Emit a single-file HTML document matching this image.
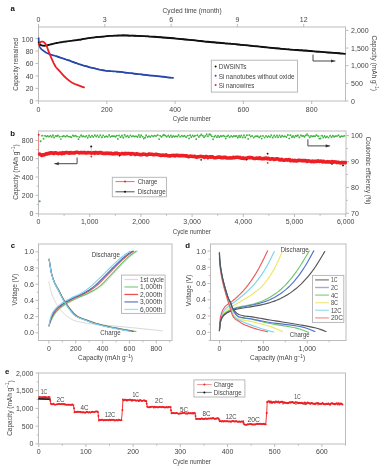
<!DOCTYPE html>
<html><head><meta charset="utf-8"><style>
html,body{margin:0;padding:0;background:#fff;width:385px;height:470px;overflow:hidden}
svg{display:block;font-family:"Liberation Sans",sans-serif;filter:blur(0.45px)}
</style></head><body>
<svg width="385" height="470" viewBox="0 0 385 470">
<rect width="385" height="470" fill="#fff"/>
<text x="10.5" y="11.3" font-size="7.8" font-weight="bold" fill="#111">a</text>
<text x="192.1" y="12.6" text-anchor="middle" font-size="7" fill="#444444"  textLength="59" lengthAdjust="spacingAndGlyphs">Cycled time (month)</text>
<rect x="38.5" y="27" width="307" height="74" fill="none" stroke="#bcbcbc" stroke-width="1"/>
<line x1="38.5" y1="27" x2="38.5" y2="24" stroke="#bcbcbc" stroke-width="1"/>
<text x="38.5" y="21.8" text-anchor="middle" font-size="7" fill="#444444" >0</text>
<line x1="104.8" y1="27" x2="104.8" y2="24" stroke="#bcbcbc" stroke-width="1"/>
<text x="104.8" y="21.8" text-anchor="middle" font-size="7" fill="#444444" >3</text>
<line x1="171.1" y1="27" x2="171.1" y2="24" stroke="#bcbcbc" stroke-width="1"/>
<text x="171.1" y="21.8" text-anchor="middle" font-size="7" fill="#444444" >6</text>
<line x1="237.4" y1="27" x2="237.4" y2="24" stroke="#bcbcbc" stroke-width="1"/>
<text x="237.4" y="21.8" text-anchor="middle" font-size="7" fill="#444444" >9</text>
<line x1="303.7" y1="27" x2="303.7" y2="24" stroke="#bcbcbc" stroke-width="1"/>
<text x="303.7" y="21.8" text-anchor="middle" font-size="7" fill="#444444" >12</text>
<line x1="35.5" y1="100.8" x2="38.5" y2="100.8" stroke="#bcbcbc" stroke-width="1"/>
<text x="33.5" y="103.7" text-anchor="end" font-size="7" fill="#444444" >0</text>
<line x1="35.5" y1="88.36" x2="38.5" y2="88.36" stroke="#bcbcbc" stroke-width="1"/>
<text x="33.5" y="91.26" text-anchor="end" font-size="7" fill="#444444" >20</text>
<line x1="35.5" y1="75.92" x2="38.5" y2="75.92" stroke="#bcbcbc" stroke-width="1"/>
<text x="33.5" y="78.82" text-anchor="end" font-size="7" fill="#444444" >40</text>
<line x1="35.5" y1="63.48" x2="38.5" y2="63.48" stroke="#bcbcbc" stroke-width="1"/>
<text x="33.5" y="66.38" text-anchor="end" font-size="7" fill="#444444" >60</text>
<line x1="35.5" y1="51.04" x2="38.5" y2="51.04" stroke="#bcbcbc" stroke-width="1"/>
<text x="33.5" y="53.94" text-anchor="end" font-size="7" fill="#444444" >80</text>
<line x1="35.5" y1="38.6" x2="38.5" y2="38.6" stroke="#bcbcbc" stroke-width="1"/>
<text x="33.5" y="41.5" text-anchor="end" font-size="7" fill="#444444" >100</text>
<line x1="345.5" y1="101" x2="348.5" y2="101" stroke="#bcbcbc" stroke-width="1"/>
<text x="351.1" y="103.5" text-anchor="start" font-size="7" fill="#444444" >0</text>
<line x1="345.5" y1="83.35" x2="348.5" y2="83.35" stroke="#bcbcbc" stroke-width="1"/>
<text x="351.1" y="85.85" text-anchor="start" font-size="7" fill="#444444" >500</text>
<line x1="345.5" y1="65.7" x2="348.5" y2="65.7" stroke="#bcbcbc" stroke-width="1"/>
<text x="351.1" y="68.2" text-anchor="start" font-size="7" fill="#444444" >1,000</text>
<line x1="345.5" y1="48.05" x2="348.5" y2="48.05" stroke="#bcbcbc" stroke-width="1"/>
<text x="351.1" y="50.55" text-anchor="start" font-size="7" fill="#444444" >1,500</text>
<line x1="345.5" y1="30.4" x2="348.5" y2="30.4" stroke="#bcbcbc" stroke-width="1"/>
<text x="351.1" y="32.9" text-anchor="start" font-size="7" fill="#444444" >2,000</text>
<line x1="38.5" y1="101" x2="38.5" y2="104" stroke="#bcbcbc" stroke-width="1"/>
<text x="38.5" y="111.8" text-anchor="middle" font-size="7" fill="#444444" >0</text>
<line x1="106.8" y1="101" x2="106.8" y2="104" stroke="#bcbcbc" stroke-width="1"/>
<text x="106.8" y="111.8" text-anchor="middle" font-size="7" fill="#444444" >200</text>
<line x1="175.1" y1="101" x2="175.1" y2="104" stroke="#bcbcbc" stroke-width="1"/>
<text x="175.1" y="111.8" text-anchor="middle" font-size="7" fill="#444444" >400</text>
<line x1="243.4" y1="101" x2="243.4" y2="104" stroke="#bcbcbc" stroke-width="1"/>
<text x="243.4" y="111.8" text-anchor="middle" font-size="7" fill="#444444" >600</text>
<line x1="311.7" y1="101" x2="311.7" y2="104" stroke="#bcbcbc" stroke-width="1"/>
<text x="311.7" y="111.8" text-anchor="middle" font-size="7" fill="#444444" >800</text>
<text x="191.8" y="121.4" text-anchor="middle" font-size="7" fill="#444444"  textLength="38.2" lengthAdjust="spacingAndGlyphs">Cycle number</text>
<text transform="translate(15.8,64.4) rotate(-90)" x="0" y="0" text-anchor="middle" dominant-baseline="central" font-size="7" fill="#444444" textLength="52.8" lengthAdjust="spacingAndGlyphs">Capacity remained</text>
<text transform="translate(374.9,63.3) rotate(90)" x="0" y="0" text-anchor="middle" dominant-baseline="central" font-size="7" fill="#444444" textLength="55.5" lengthAdjust="spacingAndGlyphs">Capacity (mAh g<tspan font-size="5" dy="-2.5">−1</tspan><tspan dy="2.5">)</tspan></text>
<path d="M38.7,38.2 L38.71,38.47 L38.71,38.82 L38.71,39.23 L38.72,39.69 L38.74,40.2 L38.77,40.75 L38.82,41.32 L38.9,41.9 L39,42.53 L39.1,43.25 L39.22,44.01 L39.36,44.79 L39.53,45.57 L39.72,46.31 L39.94,47 L40.2,47.6 L40.5,48.12 L40.85,48.57 L41.22,48.97 L41.62,49.34 L42.05,49.69 L42.49,50.02 L42.94,50.35 L43.4,50.7 L43.87,51.06 L44.36,51.41 L44.87,51.76 L45.39,52.09 L45.92,52.42 L46.45,52.73 L46.98,53.03 L47.5,53.3 L48.01,53.55 L48.52,53.77 L49.02,53.98 L49.53,54.17 L50.05,54.35 L50.58,54.53 L51.13,54.71 L51.7,54.9 L52.3,55.09 L52.91,55.27 L53.53,55.44 L54.18,55.62 L54.83,55.8 L55.51,55.99 L56.2,56.18 L56.9,56.4 L57.63,56.63 L58.38,56.88 L59.15,57.14 L59.94,57.41 L60.73,57.69 L61.53,57.96 L62.32,58.23 L63.1,58.5 L63.84,58.75 L64.55,58.99 L65.23,59.21 L65.93,59.44 L66.65,59.69 L67.44,59.96 L68.31,60.26 L69.3,60.6 L70.4,61 L71.6,61.44 L72.87,61.91 L74.21,62.41 L75.6,62.92 L77.02,63.43 L78.46,63.93 L79.9,64.4 L81.36,64.86 L82.87,65.31 L84.41,65.77 L85.98,66.22 L87.56,66.66 L89.15,67.09 L90.73,67.5 L92.3,67.9 L93.84,68.29 L95.35,68.66 L96.86,69.03 L98.37,69.39 L99.91,69.73 L101.48,70.04 L103.11,70.33 L104.8,70.6 L106.5,70.82 L108.18,70.98 L109.87,71.12 L111.62,71.23 L113.46,71.35 L115.45,71.49 L117.61,71.67 L120,71.9 L122.74,72.21 L125.86,72.57 L129.21,72.98 L132.68,73.41 L136.12,73.83 L139.41,74.24 L142.41,74.6 L145,74.9 L147.13,75.13 L148.91,75.31 L150.43,75.46 L151.78,75.58 L153.06,75.69 L154.36,75.8 L155.78,75.93 L157.4,76.1 L159.31,76.31 L161.46,76.55 L163.74,76.81 L166.03,77.07 L168.22,77.33 L170.2,77.56 L171.87,77.76 L173.1,77.9" fill="none" stroke="#2646aa" stroke-width="1.7" stroke-linejoin="round" stroke-linecap="round" />
<path d="M56.9,56.14 L58.4,57.15 L59.9,57.6 L61.4,57.75 L62.9,58.43 L64.4,58.9 L65.9,59.54 L67.4,60.14 L68.9,60.18 L70.4,60.67 L71.9,61.79 L73.4,62.06 L74.9,62.85 L76.4,62.86 L77.9,63.7 L79.4,64.39 L80.9,64.52 L82.4,65.48 L83.9,65.9 L85.4,65.72 L86.9,66.14 L88.4,66.92 L89.9,67.59 L91.4,67.59 L92.9,67.85 L94.4,68.37 L95.9,68.47 L97.4,68.97 L98.9,69.46 L100.4,69.82 L101.9,69.93 L103.4,70.19 L104.9,70.42 L106.4,70.78 L107.9,70.81 L109.4,70.74 L110.9,71.42 L112.4,71.32 L113.9,71.48 L115.4,71.27 L116.9,71.95 L118.4,71.99 L119.9,71.62 L121.4,71.94 L122.9,72.38 L124.4,72.55 L125.9,72.88 L127.4,72.7 L128.9,73.17 L130.4,73.24 L131.9,73.17 L133.4,73.56 L134.9,73.95 L136.4,74.11 L137.9,74.06 L139.4,74.3 L140.9,74.09 L142.4,74.42 L143.9,74.98 L145.4,74.88 L146.9,74.88 L148.4,75.3 L149.9,75.55 L151.4,75.66 L152.9,75.58 L154.4,75.76 L155.9,75.95 L157.4,76.29 L158.9,76.28 L160.4,76.36 L161.9,76.59 L163.4,76.44 L164.9,76.63 L166.4,77.26 L167.9,77.63 L169.4,77.53 L170.9,77.57 L172.4,77.59" fill="none" stroke="#2646aa" stroke-width="1.2" stroke-linejoin="round" stroke-linecap="round" />
<path d="M38.7,42.4 L38.81,42.57 L38.96,42.8 L39.13,43.08 L39.32,43.39 L39.53,43.7 L39.75,44 L39.97,44.28 L40.2,44.5 L40.43,44.68 L40.66,44.85 L40.9,44.99 L41.15,45.12 L41.41,45.23 L41.69,45.33 L41.99,45.42 L42.3,45.5 L42.64,45.57 L43,45.63 L43.39,45.67 L43.79,45.71 L44.19,45.73 L44.6,45.73 L45.01,45.72 L45.4,45.7 L45.77,45.66 L46.1,45.61 L46.42,45.54 L46.75,45.46 L47.1,45.37 L47.5,45.26 L47.96,45.14 L48.5,45 L49.12,44.84 L49.8,44.66 L50.54,44.46 L51.33,44.25 L52.15,44.03 L53.01,43.81 L53.89,43.6 L54.8,43.4 L55.74,43.2 L56.73,43.01 L57.77,42.81 L58.82,42.62 L59.9,42.43 L60.98,42.24 L62.05,42.07 L63.1,41.9 L64.14,41.74 L65.17,41.6 L66.2,41.46 L67.23,41.33 L68.27,41.2 L69.3,41.07 L70.35,40.94 L71.4,40.8 L72.44,40.66 L73.44,40.53 L74.44,40.39 L75.45,40.26 L76.49,40.11 L77.58,39.96 L78.75,39.79 L80,39.6 L81.31,39.39 L82.63,39.15 L84,38.9 L85.44,38.64 L86.96,38.37 L88.6,38.1 L90.37,37.85 L92.3,37.6 L94.47,37.36 L96.91,37.1 L99.51,36.84 L102.21,36.59 L104.92,36.36 L107.56,36.14 L110.05,35.95 L112.3,35.8 L114.28,35.68 L116.04,35.6 L117.67,35.53 L119.21,35.49 L120.75,35.47 L122.35,35.47 L124.08,35.48 L126,35.5 L128.08,35.53 L130.24,35.58 L132.47,35.64 L134.79,35.72 L137.2,35.81 L139.7,35.92 L142.3,36.05 L145,36.2 L147.84,36.37 L150.83,36.56 L153.94,36.77 L157.14,36.99 L160.38,37.23 L163.62,37.48 L166.84,37.74 L170,38 L173.18,38.28 L176.44,38.58 L179.74,38.89 L183.01,39.21 L186.21,39.53 L189.28,39.84 L192.16,40.13 L194.8,40.4 L197.09,40.63 L199.05,40.84 L200.77,41.03 L202.39,41.21 L204,41.39 L205.74,41.58 L207.7,41.78 L210,42 L212.66,42.24 L215.56,42.5 L218.66,42.77 L221.89,43.04 L225.19,43.33 L228.52,43.61 L231.81,43.91 L235,44.2 L238.13,44.5 L241.25,44.81 L244.38,45.12 L247.51,45.44 L250.64,45.76 L253.76,46.08 L256.88,46.39 L260,46.7 L263.11,47.01 L266.2,47.32 L269.3,47.63 L272.39,47.94 L275.48,48.24 L278.58,48.54 L281.68,48.82 L284.8,49.1 L287.86,49.36 L290.84,49.59 L293.79,49.81 L296.76,50.02 L299.81,50.24 L303,50.47 L306.38,50.72 L310,51 L314.15,51.33 L318.88,51.7 L323.95,52.11 L329.07,52.52 L334.01,52.92 L338.48,53.28 L342.23,53.58 L345,53.8" fill="none" stroke="#111" stroke-width="1.85" stroke-linejoin="round" stroke-linecap="round" />
<path d="M80,39.87 L81.5,39.6 L83,38.79 L84.5,38.54 L86,38.72 L87.5,38.42 L89,38.14 L90.5,37.71 L92,37.7 L93.5,37.53 L95,37.35 L96.5,36.94 L98,36.95 L99.5,36.78 L101,36.84 L102.5,36.87 L104,36.71 L105.5,36.34 L107,36.15 L108.5,35.93 L110,35.68 L111.5,35.57 L113,35.74 L114.5,35.56 L116,35.53 L117.5,35.78 L119,35.51 L120.5,35.51 L122,35.31 L123.5,35.19 L125,35.38 L126.5,35.29 L128,35.54 L129.5,35.86 L131,35.7 L132.5,35.45 L134,35.93 L135.5,35.92 L137,35.95 L138.5,36.11 L140,36.1 L141.5,36.19 L143,36 L144.5,36.46 L146,36.54 L147.5,36.14 L149,36.59 L150.5,36.67 L152,36.61 L153.5,36.76 L155,36.84 L156.5,37.2 L158,37.06 L159.5,37.37 L161,37.19 L162.5,37.62 L164,37.75 L165.5,37.61 L167,37.79 L168.5,38.13 L170,38.13 L171.5,38.12 L173,38.09 L174.5,38.29 L176,38.66 L177.5,38.48 L179,39.07 L180.5,38.83 L182,39.36 L183.5,39.15 L185,39.69 L186.5,39.69 L188,39.72 L189.5,39.88 L191,40.11 L192.5,40.22 L194,40.21 L195.5,40.3 L197,40.63 L198.5,41.04 L200,41.02 L201.5,40.86 L203,41.47 L204.5,41.58 L206,41.85 L207.5,41.57 L209,42.05 L210.5,41.78 L212,42.28 L213.5,42.18 L215,42.29 L216.5,42.81 L218,42.48 L219.5,42.85 L221,43.18 L222.5,42.94 L224,43.05 L225.5,43.58 L227,43.44 L228.5,43.74 L230,43.46 L231.5,43.8 L233,43.82 L234.5,44.26 L236,44.05 L237.5,44.71 L239,44.3 L240.5,44.87 L242,44.59 L243.5,44.88 L245,45.37 L246.5,45.13 L248,45.3 L249.5,45.76 L251,45.72 L252.5,45.67 L254,46.39 L255.5,46.04 L257,46.12 L258.5,46.46 L260,46.77 L261.5,46.99 L263,46.77 L264.5,47.05 L266,47.02 L267.5,47.42 L269,47.76 L270.5,47.89 L272,48.14 L273.5,48.2 L275,48.41 L276.5,48.46 L278,48.47 L279.5,48.46 L281,48.86 L282.5,48.79 L284,48.79 L285.5,49.13 L287,49.51 L288.5,49.18 L290,49.57 L291.5,49.57 L293,49.76 L294.5,49.65 L296,50.25 L297.5,49.93 L299,50.25 L300.5,50.24 L302,50.11 L303.5,50.54 L305,50.4 L306.5,50.47 L308,50.57 L309.5,50.76 L311,50.84 L312.5,51.28 L314,51.32 L315.5,51.72 L317,51.81 L318.5,51.97 L320,51.63 L321.5,51.88 L323,51.88 L324.5,52.21 L326,52.35 L327.5,52.57 L329,52.64 L330.5,52.49 L332,52.71 L333.5,52.89 L335,52.7 L336.5,52.84 L338,53.18 L339.5,53.12 L341,53.61 L342.5,53.44 L344,53.48" fill="none" stroke="#111" stroke-width="1.2" stroke-linejoin="round" stroke-linecap="round" />
<path d="M38.7,44.5 L38.82,44.33 L38.97,44.09 L39.15,43.81 L39.35,43.5 L39.56,43.18 L39.78,42.88 L40,42.61 L40.2,42.4 L40.39,42.23 L40.58,42.07 L40.77,41.94 L40.96,41.82 L41.15,41.73 L41.36,41.66 L41.57,41.62 L41.8,41.6 L42.04,41.6 L42.3,41.61 L42.57,41.64 L42.84,41.7 L43.13,41.79 L43.41,41.91 L43.71,42.08 L44,42.3 L44.3,42.56 L44.61,42.86 L44.93,43.2 L45.26,43.57 L45.58,43.99 L45.9,44.45 L46.2,44.95 L46.5,45.5 L46.77,46.09 L47.02,46.74 L47.26,47.42 L47.49,48.15 L47.73,48.92 L47.99,49.71 L48.28,50.54 L48.6,51.4 L48.96,52.31 L49.36,53.28 L49.78,54.29 L50.22,55.34 L50.67,56.39 L51.12,57.43 L51.57,58.44 L52,59.4 L52.42,60.33 L52.85,61.27 L53.27,62.2 L53.69,63.1 L54.12,63.97 L54.54,64.8 L54.97,65.58 L55.4,66.3 L55.83,66.93 L56.24,67.48 L56.66,67.96 L57.08,68.41 L57.51,68.85 L57.95,69.29 L58.41,69.77 L58.9,70.3 L59.41,70.88 L59.93,71.5 L60.46,72.13 L61.01,72.78 L61.58,73.43 L62.17,74.09 L62.77,74.75 L63.4,75.4 L64.05,76.06 L64.74,76.74 L65.45,77.42 L66.17,78.11 L66.9,78.78 L67.64,79.42 L68.37,80.04 L69.1,80.6 L69.8,81.11 L70.47,81.58 L71.12,82.01 L71.79,82.41 L72.48,82.8 L73.22,83.19 L74.02,83.59 L74.9,84 L75.94,84.45 L77.16,84.93 L78.47,85.42 L79.81,85.91 L81.11,86.37 L82.29,86.79 L83.28,87.14 L84,87.4" fill="none" stroke="#ee1f24" stroke-width="1.8" stroke-linejoin="round" stroke-linecap="round" />
<path d="M313,55 L313,61 L335,61" fill="none" stroke="#333" stroke-width="0.9" stroke-linejoin="round" stroke-linecap="round" />
<path d="M335,61 L331,59.4 L331,62.6 Z" fill="#333"/>
<rect x="211.3" y="60.2" width="86.2" height="31.9" fill="#fff" stroke="#b2b2b2" stroke-width="0.9"/>
<circle cx="215.6" cy="66.4" r="1.0" fill="#111"/>
<text x="218.7" y="69.3" text-anchor="start" font-size="7" fill="#444444"  textLength="27.8" lengthAdjust="spacingAndGlyphs">DWSiNTs</text>
<circle cx="215.6" cy="75.65" r="1.0" fill="#2b4fb5"/>
<text x="218.7" y="78.55" text-anchor="start" font-size="7" fill="#444444"  textLength="75.8" lengthAdjust="spacingAndGlyphs">Si nanotubes without oxide</text>
<circle cx="215.6" cy="84.9" r="1.0" fill="#e8262a"/>
<text x="218.7" y="87.8" text-anchor="start" font-size="7" fill="#444444"  textLength="35.6" lengthAdjust="spacingAndGlyphs">Si nanowires</text>
<text x="10.3" y="135.9" font-size="7.8" font-weight="bold" fill="#111">b</text>
<rect x="38.5" y="131" width="307.5" height="83" fill="none" stroke="#bcbcbc" stroke-width="1"/>
<line x1="35.5" y1="213.6" x2="38.5" y2="213.6" stroke="#bcbcbc" stroke-width="1"/>
<text x="33.5" y="216.1" text-anchor="end" font-size="7" fill="#444444" >0</text>
<line x1="36.7" y1="204.45" x2="38.5" y2="204.45" stroke="#bcbcbc" stroke-width="1"/>
<line x1="35.5" y1="195.3" x2="38.5" y2="195.3" stroke="#bcbcbc" stroke-width="1"/>
<text x="33.5" y="197.8" text-anchor="end" font-size="7" fill="#444444" >200</text>
<line x1="36.7" y1="186.15" x2="38.5" y2="186.15" stroke="#bcbcbc" stroke-width="1"/>
<line x1="35.5" y1="177" x2="38.5" y2="177" stroke="#bcbcbc" stroke-width="1"/>
<text x="33.5" y="179.5" text-anchor="end" font-size="7" fill="#444444" >400</text>
<line x1="36.7" y1="167.85" x2="38.5" y2="167.85" stroke="#bcbcbc" stroke-width="1"/>
<line x1="35.5" y1="158.7" x2="38.5" y2="158.7" stroke="#bcbcbc" stroke-width="1"/>
<text x="33.5" y="161.2" text-anchor="end" font-size="7" fill="#444444" >600</text>
<line x1="36.7" y1="149.55" x2="38.5" y2="149.55" stroke="#bcbcbc" stroke-width="1"/>
<line x1="35.5" y1="140.4" x2="38.5" y2="140.4" stroke="#bcbcbc" stroke-width="1"/>
<text x="33.5" y="142.9" text-anchor="end" font-size="7" fill="#444444" >800</text>
<line x1="346" y1="213.3" x2="349" y2="213.3" stroke="#bcbcbc" stroke-width="1"/>
<text x="351" y="215.8" text-anchor="start" font-size="7" fill="#444444" >70</text>
<line x1="346" y1="200.35" x2="347.8" y2="200.35" stroke="#bcbcbc" stroke-width="1"/>
<line x1="346" y1="187.4" x2="349" y2="187.4" stroke="#bcbcbc" stroke-width="1"/>
<text x="351" y="189.9" text-anchor="start" font-size="7" fill="#444444" >80</text>
<line x1="346" y1="174.45" x2="347.8" y2="174.45" stroke="#bcbcbc" stroke-width="1"/>
<line x1="346" y1="161.5" x2="349" y2="161.5" stroke="#bcbcbc" stroke-width="1"/>
<text x="351" y="164" text-anchor="start" font-size="7" fill="#444444" >90</text>
<line x1="346" y1="148.55" x2="347.8" y2="148.55" stroke="#bcbcbc" stroke-width="1"/>
<line x1="346" y1="135.6" x2="349" y2="135.6" stroke="#bcbcbc" stroke-width="1"/>
<text x="351" y="138.1" text-anchor="start" font-size="7" fill="#444444" >100</text>
<line x1="38.5" y1="214" x2="38.5" y2="217" stroke="#bcbcbc" stroke-width="1"/>
<text x="38.5" y="223.5" text-anchor="middle" font-size="7" fill="#444444" >0</text>
<line x1="64.1" y1="214" x2="64.1" y2="215.8" stroke="#bcbcbc" stroke-width="1"/>
<line x1="89.7" y1="214" x2="89.7" y2="217" stroke="#bcbcbc" stroke-width="1"/>
<text x="89.7" y="223.5" text-anchor="middle" font-size="7" fill="#444444" >1,000</text>
<line x1="115.3" y1="214" x2="115.3" y2="215.8" stroke="#bcbcbc" stroke-width="1"/>
<line x1="140.9" y1="214" x2="140.9" y2="217" stroke="#bcbcbc" stroke-width="1"/>
<text x="140.9" y="223.5" text-anchor="middle" font-size="7" fill="#444444" >2,000</text>
<line x1="166.5" y1="214" x2="166.5" y2="215.8" stroke="#bcbcbc" stroke-width="1"/>
<line x1="192.1" y1="214" x2="192.1" y2="217" stroke="#bcbcbc" stroke-width="1"/>
<text x="192.1" y="223.5" text-anchor="middle" font-size="7" fill="#444444" >3,000</text>
<line x1="217.7" y1="214" x2="217.7" y2="215.8" stroke="#bcbcbc" stroke-width="1"/>
<line x1="243.3" y1="214" x2="243.3" y2="217" stroke="#bcbcbc" stroke-width="1"/>
<text x="243.3" y="223.5" text-anchor="middle" font-size="7" fill="#444444" >4,000</text>
<line x1="268.9" y1="214" x2="268.9" y2="215.8" stroke="#bcbcbc" stroke-width="1"/>
<line x1="294.5" y1="214" x2="294.5" y2="217" stroke="#bcbcbc" stroke-width="1"/>
<text x="294.5" y="223.5" text-anchor="middle" font-size="7" fill="#444444" >5,000</text>
<line x1="320.1" y1="214" x2="320.1" y2="215.8" stroke="#bcbcbc" stroke-width="1"/>
<line x1="345.7" y1="214" x2="345.7" y2="217" stroke="#bcbcbc" stroke-width="1"/>
<text x="345.7" y="223.5" text-anchor="middle" font-size="7" fill="#444444" >6,000</text>
<text x="191.8" y="233.5" text-anchor="middle" font-size="7" fill="#444444"  textLength="38.2" lengthAdjust="spacingAndGlyphs">Cycle number</text>
<text transform="translate(15,172) rotate(-90)" x="0" y="0" text-anchor="middle" dominant-baseline="central" font-size="7" fill="#444444" textLength="55.5" lengthAdjust="spacingAndGlyphs">Capacity (mAh g<tspan font-size="5" dy="-2.5">−1</tspan><tspan dy="2.5">)</tspan></text>
<text transform="translate(368.8,170.5) rotate(90)" x="0" y="0" text-anchor="middle" dominant-baseline="central" font-size="7" fill="#444444" textLength="67.6" lengthAdjust="spacingAndGlyphs">Coulombic efficiency (%)</text>
<path d="M42,135.7 L45.14,135.79 L46.48,136.58 L47.58,135.81 L49.07,136.68 L50.48,135.7 L51.68,136.89 L52.92,135.13 L54.13,137.53 L55.67,135.78 L56.85,136.17 L57.95,135.31 L59.46,136.68 L62.43,136.5 L63.82,135.88 L65.4,136.69 L66.97,135.72 L68.46,136.58 L69.99,136.56 L71.26,137.32 L72.82,135.45 L74.01,136.06 L75.61,135.7 L76.97,136.53 L79.6,137.11 L81.07,135.21 L82.22,136.49 L83.47,136.11 L85.06,136.78 L86.4,135.82 L87.69,137.8 L89.04,135.52 L90.53,137.18 L92.01,135.55 L93.3,136.92 L94.78,135.26 L96.21,136.56 L97.43,135.41 L98.86,137.09 L100.32,135.14 L101.86,137.46 L103.22,135.35 L104.79,136.98 L106.25,136.27 L107.68,136.85 L109.1,135.01 L110.42,136.81 L111.84,136.18 L112.97,136.26 L114.16,136.18 L115.57,136.75 L116.67,135.59 L118.97,135.47 L120.55,137.17 L121.97,135.52 L123.36,137.77 L124.63,134.78 L126.01,136.7 L127.56,135.74 L128.81,137.32 L130.36,135.34 L131.71,136.6 L133.06,135.89 L134.47,136.62 L135.98,136.26 L137.55,136.98 L138.73,134.9 L140.06,137.11 L141.22,135.18 L142.49,136.63 L145.1,137.66 L146.21,135.26 L147.66,136.99 L148.95,136.06 L150.2,136.9 L151.65,135.56 L153.2,136.4 L154.55,135.58 L156.06,136.12 L157.55,135.07 L160.35,135.84 L161.52,136.94 L162.93,135.48 L165.44,135.66 L166.75,136.71 L168.32,135.45 L169.5,137.01 L170.87,135.32 L172.1,137.16 L173.32,135.99 L174.77,136.7 L175.92,136.18 L177.46,136.69 L178.57,135.02 L180.15,136.85 L181.74,135.71 L183.15,136.46 L184.56,135.74 L186.07,137.27 L187.6,135.7 L190.19,135.17 L191.29,137.13 L192.6,135.37 L193.78,136.61 L194.96,135.77 L197.48,135.27 L198.82,137.08 L200.07,135.62 L202.85,135.66 L204.09,137.3 L205.32,135.8 L207.94,136.23 L210.64,134.77 L211.77,136.37 L214.26,136.78 L215.4,135.56 L216.96,137.25 L218.07,135.59 L219.36,137.18 L220.61,135.97 L221.77,136.29 L223.28,135.58 L224.5,136.29 L226.97,136.38 L228.23,135.39 L229.65,137.22 L231.16,135.83 L232.61,136.82 L233.78,135.91 L235.21,136.24 L236.59,135.86 L237.87,137.64 L239.09,135.63 L240.19,137.21 L241.34,135.35 L242.66,137.61 L243.92,135.12 L245.24,137.52 L246.83,135.22 L249.48,135.11 L250.72,136.54 L252.19,135.84 L253.78,137.54 L255.08,136.34 L256.2,136.13 L257.75,136.25 L259.2,137.38 L260.48,136.25 L262.97,135.84 L264.56,137.57 L265.99,135.84 L267.39,137.08 L268.53,136.03 L270.01,136.95 L271.25,135.05 L272.68,137.72 L274.2,135.45 L275.56,137.12 L276.93,135.38 L278.12,137.35 L279.53,135.47 L280.9,137.01 L282.11,135.7 L283.66,136.56 L284.87,136.23 L286.41,137.06 L287.77,135.01 L290.56,135.27 L291.96,137.18 L293.09,135.94 L294.35,137.39 L295.56,135.69 L296.71,136.21 L297.89,135.2 L299.35,137.47 L300.92,135.2 L302.07,136.03 L303.36,135.84 L304.5,136.77 L305.66,135.43 L308.46,135.59 L309.74,137.47 L310.99,135.81 L312.37,136.47 L313.73,136.13 L315.17,136.15 L316.51,135.1 L318.07,136.24 L322.09,135.7 L323.33,137.55 L324.46,136 L325.85,137.45 L326.97,136.44 L328.51,137.57 L330.11,135.66 L331.6,137.13 L332.81,135.56 L334.05,136.75 L335.38,136.07 L336.92,136.1 L338.5,135.24 L340.06,137 L341.38,136.13 L342.87,136.45 L344.32,135.83" fill="none" stroke="#5cc25c" stroke-width="0.7" stroke-linejoin="round" stroke-linecap="round" />
<g fill="#3db53d">
<circle cx="39.7" cy="201.3" r="1"/>
<circle cx="40.6" cy="141.2" r="1"/>
<circle cx="42" cy="135.7" r="0.9"/>
<circle cx="45.14" cy="135.79" r="0.9"/>
<circle cx="46.48" cy="136.58" r="0.9"/>
<circle cx="47.58" cy="135.81" r="0.9"/>
<circle cx="49.07" cy="136.68" r="0.9"/>
<circle cx="50.48" cy="135.7" r="0.9"/>
<circle cx="51.68" cy="136.89" r="0.9"/>
<circle cx="52.92" cy="135.13" r="0.9"/>
<circle cx="54.13" cy="137.53" r="0.9"/>
<circle cx="55.67" cy="135.78" r="0.9"/>
<circle cx="56.85" cy="136.17" r="0.9"/>
<circle cx="57.95" cy="135.31" r="0.9"/>
<circle cx="59.46" cy="136.68" r="0.9"/>
<circle cx="62.43" cy="136.5" r="0.9"/>
<circle cx="63.82" cy="135.88" r="0.9"/>
<circle cx="65.4" cy="136.69" r="0.9"/>
<circle cx="66.97" cy="135.72" r="0.9"/>
<circle cx="68.46" cy="136.58" r="0.9"/>
<circle cx="69.99" cy="136.56" r="0.9"/>
<circle cx="71.26" cy="137.32" r="0.9"/>
<circle cx="72.82" cy="135.45" r="0.9"/>
<circle cx="74.01" cy="136.06" r="0.9"/>
<circle cx="75.61" cy="135.7" r="0.9"/>
<circle cx="76.97" cy="136.53" r="0.9"/>
<circle cx="79.6" cy="137.11" r="0.9"/>
<circle cx="81.07" cy="135.21" r="0.9"/>
<circle cx="82.22" cy="136.49" r="0.9"/>
<circle cx="83.47" cy="136.11" r="0.9"/>
<circle cx="85.06" cy="136.78" r="0.9"/>
<circle cx="86.4" cy="135.82" r="0.9"/>
<circle cx="87.69" cy="137.8" r="0.9"/>
<circle cx="89.04" cy="135.52" r="0.9"/>
<circle cx="90.53" cy="137.18" r="0.9"/>
<circle cx="92.01" cy="135.55" r="0.9"/>
<circle cx="93.3" cy="136.92" r="0.9"/>
<circle cx="94.78" cy="135.26" r="0.9"/>
<circle cx="96.21" cy="136.56" r="0.9"/>
<circle cx="97.43" cy="135.41" r="0.9"/>
<circle cx="98.86" cy="137.09" r="0.9"/>
<circle cx="100.32" cy="135.14" r="0.9"/>
<circle cx="101.86" cy="137.46" r="0.9"/>
<circle cx="103.22" cy="135.35" r="0.9"/>
<circle cx="104.79" cy="136.98" r="0.9"/>
<circle cx="106.25" cy="136.27" r="0.9"/>
<circle cx="107.68" cy="136.85" r="0.9"/>
<circle cx="109.1" cy="135.01" r="0.9"/>
<circle cx="110.42" cy="136.81" r="0.9"/>
<circle cx="111.84" cy="136.18" r="0.9"/>
<circle cx="112.97" cy="136.26" r="0.9"/>
<circle cx="114.16" cy="136.18" r="0.9"/>
<circle cx="115.57" cy="136.75" r="0.9"/>
<circle cx="116.67" cy="135.59" r="0.9"/>
<circle cx="118.97" cy="135.47" r="0.9"/>
<circle cx="120.55" cy="137.17" r="0.9"/>
<circle cx="121.97" cy="135.52" r="0.9"/>
<circle cx="123.36" cy="137.77" r="0.9"/>
<circle cx="124.63" cy="134.78" r="0.9"/>
<circle cx="126.01" cy="136.7" r="0.9"/>
<circle cx="127.56" cy="135.74" r="0.9"/>
<circle cx="128.81" cy="137.32" r="0.9"/>
<circle cx="130.36" cy="135.34" r="0.9"/>
<circle cx="131.71" cy="136.6" r="0.9"/>
<circle cx="133.06" cy="135.89" r="0.9"/>
<circle cx="134.47" cy="136.62" r="0.9"/>
<circle cx="135.98" cy="136.26" r="0.9"/>
<circle cx="137.55" cy="136.98" r="0.9"/>
<circle cx="138.73" cy="134.9" r="0.9"/>
<circle cx="140.06" cy="137.11" r="0.9"/>
<circle cx="141.22" cy="135.18" r="0.9"/>
<circle cx="142.49" cy="136.63" r="0.9"/>
<circle cx="145.1" cy="137.66" r="0.9"/>
<circle cx="146.21" cy="135.26" r="0.9"/>
<circle cx="147.66" cy="136.99" r="0.9"/>
<circle cx="148.95" cy="136.06" r="0.9"/>
<circle cx="150.2" cy="136.9" r="0.9"/>
<circle cx="151.65" cy="135.56" r="0.9"/>
<circle cx="153.2" cy="136.4" r="0.9"/>
<circle cx="154.55" cy="135.58" r="0.9"/>
<circle cx="156.06" cy="136.12" r="0.9"/>
<circle cx="157.55" cy="135.07" r="0.9"/>
<circle cx="160.35" cy="135.84" r="0.9"/>
<circle cx="161.52" cy="136.94" r="0.9"/>
<circle cx="162.93" cy="135.48" r="0.9"/>
<circle cx="165.44" cy="135.66" r="0.9"/>
<circle cx="166.75" cy="136.71" r="0.9"/>
<circle cx="168.32" cy="135.45" r="0.9"/>
<circle cx="169.5" cy="137.01" r="0.9"/>
<circle cx="170.87" cy="135.32" r="0.9"/>
<circle cx="172.1" cy="137.16" r="0.9"/>
<circle cx="173.32" cy="135.99" r="0.9"/>
<circle cx="174.77" cy="136.7" r="0.9"/>
<circle cx="175.92" cy="136.18" r="0.9"/>
<circle cx="177.46" cy="136.69" r="0.9"/>
<circle cx="178.57" cy="135.02" r="0.9"/>
<circle cx="180.15" cy="136.85" r="0.9"/>
<circle cx="181.74" cy="135.71" r="0.9"/>
<circle cx="183.15" cy="136.46" r="0.9"/>
<circle cx="184.56" cy="135.74" r="0.9"/>
<circle cx="186.07" cy="137.27" r="0.9"/>
<circle cx="187.6" cy="135.7" r="0.9"/>
<circle cx="190.19" cy="135.17" r="0.9"/>
<circle cx="191.29" cy="137.13" r="0.9"/>
<circle cx="192.6" cy="135.37" r="0.9"/>
<circle cx="193.78" cy="136.61" r="0.9"/>
<circle cx="194.96" cy="135.77" r="0.9"/>
<circle cx="197.48" cy="135.27" r="0.9"/>
<circle cx="198.82" cy="137.08" r="0.9"/>
<circle cx="200.07" cy="135.62" r="0.9"/>
<circle cx="202.85" cy="135.66" r="0.9"/>
<circle cx="204.09" cy="137.3" r="0.9"/>
<circle cx="205.32" cy="135.8" r="0.9"/>
<circle cx="207.94" cy="136.23" r="0.9"/>
<circle cx="210.64" cy="134.77" r="0.9"/>
<circle cx="211.77" cy="136.37" r="0.9"/>
<circle cx="214.26" cy="136.78" r="0.9"/>
<circle cx="215.4" cy="135.56" r="0.9"/>
<circle cx="216.96" cy="137.25" r="0.9"/>
<circle cx="218.07" cy="135.59" r="0.9"/>
<circle cx="219.36" cy="137.18" r="0.9"/>
<circle cx="220.61" cy="135.97" r="0.9"/>
<circle cx="221.77" cy="136.29" r="0.9"/>
<circle cx="223.28" cy="135.58" r="0.9"/>
<circle cx="224.5" cy="136.29" r="0.9"/>
<circle cx="226.97" cy="136.38" r="0.9"/>
<circle cx="228.23" cy="135.39" r="0.9"/>
<circle cx="229.65" cy="137.22" r="0.9"/>
<circle cx="231.16" cy="135.83" r="0.9"/>
<circle cx="232.61" cy="136.82" r="0.9"/>
<circle cx="233.78" cy="135.91" r="0.9"/>
<circle cx="235.21" cy="136.24" r="0.9"/>
<circle cx="236.59" cy="135.86" r="0.9"/>
<circle cx="237.87" cy="137.64" r="0.9"/>
<circle cx="239.09" cy="135.63" r="0.9"/>
<circle cx="240.19" cy="137.21" r="0.9"/>
<circle cx="241.34" cy="135.35" r="0.9"/>
<circle cx="242.66" cy="137.61" r="0.9"/>
<circle cx="243.92" cy="135.12" r="0.9"/>
<circle cx="245.24" cy="137.52" r="0.9"/>
<circle cx="246.83" cy="135.22" r="0.9"/>
<circle cx="249.48" cy="135.11" r="0.9"/>
<circle cx="250.72" cy="136.54" r="0.9"/>
<circle cx="252.19" cy="135.84" r="0.9"/>
<circle cx="253.78" cy="137.54" r="0.9"/>
<circle cx="255.08" cy="136.34" r="0.9"/>
<circle cx="256.2" cy="136.13" r="0.9"/>
<circle cx="257.75" cy="136.25" r="0.9"/>
<circle cx="259.2" cy="137.38" r="0.9"/>
<circle cx="260.48" cy="136.25" r="0.9"/>
<circle cx="262.97" cy="135.84" r="0.9"/>
<circle cx="264.56" cy="137.57" r="0.9"/>
<circle cx="265.99" cy="135.84" r="0.9"/>
<circle cx="267.39" cy="137.08" r="0.9"/>
<circle cx="268.53" cy="136.03" r="0.9"/>
<circle cx="270.01" cy="136.95" r="0.9"/>
<circle cx="271.25" cy="135.05" r="0.9"/>
<circle cx="272.68" cy="137.72" r="0.9"/>
<circle cx="274.2" cy="135.45" r="0.9"/>
<circle cx="275.56" cy="137.12" r="0.9"/>
<circle cx="276.93" cy="135.38" r="0.9"/>
<circle cx="278.12" cy="137.35" r="0.9"/>
<circle cx="279.53" cy="135.47" r="0.9"/>
<circle cx="280.9" cy="137.01" r="0.9"/>
<circle cx="282.11" cy="135.7" r="0.9"/>
<circle cx="283.66" cy="136.56" r="0.9"/>
<circle cx="284.87" cy="136.23" r="0.9"/>
<circle cx="286.41" cy="137.06" r="0.9"/>
<circle cx="287.77" cy="135.01" r="0.9"/>
<circle cx="290.56" cy="135.27" r="0.9"/>
<circle cx="291.96" cy="137.18" r="0.9"/>
<circle cx="293.09" cy="135.94" r="0.9"/>
<circle cx="294.35" cy="137.39" r="0.9"/>
<circle cx="295.56" cy="135.69" r="0.9"/>
<circle cx="296.71" cy="136.21" r="0.9"/>
<circle cx="297.89" cy="135.2" r="0.9"/>
<circle cx="299.35" cy="137.47" r="0.9"/>
<circle cx="300.92" cy="135.2" r="0.9"/>
<circle cx="302.07" cy="136.03" r="0.9"/>
<circle cx="303.36" cy="135.84" r="0.9"/>
<circle cx="304.5" cy="136.77" r="0.9"/>
<circle cx="305.66" cy="135.43" r="0.9"/>
<circle cx="308.46" cy="135.59" r="0.9"/>
<circle cx="309.74" cy="137.47" r="0.9"/>
<circle cx="310.99" cy="135.81" r="0.9"/>
<circle cx="312.37" cy="136.47" r="0.9"/>
<circle cx="313.73" cy="136.13" r="0.9"/>
<circle cx="315.17" cy="136.15" r="0.9"/>
<circle cx="316.51" cy="135.1" r="0.9"/>
<circle cx="318.07" cy="136.24" r="0.9"/>
<circle cx="322.09" cy="135.7" r="0.9"/>
<circle cx="323.33" cy="137.55" r="0.9"/>
<circle cx="324.46" cy="136" r="0.9"/>
<circle cx="325.85" cy="137.45" r="0.9"/>
<circle cx="326.97" cy="136.44" r="0.9"/>
<circle cx="328.51" cy="137.57" r="0.9"/>
<circle cx="330.11" cy="135.66" r="0.9"/>
<circle cx="331.6" cy="137.13" r="0.9"/>
<circle cx="332.81" cy="135.56" r="0.9"/>
<circle cx="334.05" cy="136.75" r="0.9"/>
<circle cx="335.38" cy="136.07" r="0.9"/>
<circle cx="336.92" cy="136.1" r="0.9"/>
<circle cx="338.5" cy="135.24" r="0.9"/>
<circle cx="340.06" cy="137" r="0.9"/>
<circle cx="341.38" cy="136.13" r="0.9"/>
<circle cx="342.87" cy="136.45" r="0.9"/>
<circle cx="344.32" cy="135.83" r="0.9"/>
<circle cx="43.57" cy="138.77" r="0.9"/>
<circle cx="60.91" cy="139.05" r="0.9"/>
<circle cx="78.49" cy="139.22" r="0.9"/>
<circle cx="117.83" cy="138.91" r="0.9"/>
<circle cx="143.77" cy="138.55" r="0.9"/>
<circle cx="159.14" cy="139.14" r="0.9"/>
<circle cx="164.05" cy="134.76" r="0.9"/>
<circle cx="189.07" cy="138.5" r="0.9"/>
<circle cx="196.2" cy="139.22" r="0.9"/>
<circle cx="201.27" cy="134.52" r="0.9"/>
<circle cx="206.63" cy="134.25" r="0.9"/>
<circle cx="209.3" cy="134.17" r="0.9"/>
<circle cx="213.07" cy="139.27" r="0.9"/>
<circle cx="225.73" cy="138.5" r="0.9"/>
<circle cx="248.14" cy="138.88" r="0.9"/>
<circle cx="261.68" cy="138.61" r="0.9"/>
<circle cx="289.18" cy="138.42" r="0.9"/>
<circle cx="307" cy="134.27" r="0.9"/>
<circle cx="319.18" cy="138.55" r="0.9"/>
<circle cx="320.5" cy="138.52" r="0.9"/>
</g>
<line x1="38.6" y1="134.7" x2="38.6" y2="154" stroke="#f07070" stroke-width="0.7"/>
<circle cx="38.7" cy="134.7" r="1" fill="#e8262a"/>
<path d="M39.6,154.11 L40.7,154.82 L41.8,155.49 L42.9,154.69 L44,154.97 L45.1,154.43 L46.2,153.72 L47.3,153.94 L48.4,153.18 L49.5,153.43 L50.6,152.9 L51.7,152.84 L52.8,153.15 L53.9,153.56 L55,152.77 L56.1,152.86 L57.2,153.3 L58.3,153.63 L59.4,153.21 L60.5,152.99 L61.6,153.61 L62.7,152.57 L63.8,153.44 L64.9,152.79 L66,152.6 L67.1,152.55 L68.2,152.73 L69.3,153.27 L70.4,152.54 L71.5,152.96 L72.6,153 L73.7,152.69 L74.8,152.86 L75.9,152.31 L77,152.28 L78.1,152.43 L79.2,152.94 L80.3,152.64 L81.4,152.51 L82.5,152.8 L83.6,152.65 L84.7,152.48 L85.8,153.02 L86.9,152.93 L88,152.43 L89.1,152.81 L90.2,152.77 L91.3,153.17 L92.4,153.03 L93.5,152.57 L94.6,153.36 L95.7,152.43 L96.8,152.79 L97.9,153.19 L99,152.56 L100.1,152.96 L101.2,152.5 L102.3,153.22 L103.4,153.36 L104.5,153.19 L105.6,153.55 L106.7,152.97 L107.8,153.42 L108.9,153.35 L110,153.36 L111.1,153.26 L112.2,153.72 L113.3,153.87 L114.4,153.38 L115.5,153.63 L116.6,153 L117.7,153.75 L118.8,153.73 L119.9,154.15 L121,154 L122.1,153.45 L123.2,153.61 L124.3,153.96 L125.4,153.29 L126.5,153.81 L127.6,153.53 L128.7,153.51 L129.8,153.48 L130.9,154.3 L132,153.63 L133.1,153.79 L134.2,153.98 L135.3,154.54 L136.4,153.7 L137.5,154.13 L138.6,154.27 L139.7,154.66 L140.8,154.62 L141.9,154.7 L143,154.08 L144.1,154.26 L145.2,154.23 L146.3,154.83 L147.4,154.95 L148.5,154.09 L149.6,154.15 L150.7,154.25 L151.8,154.29 L152.9,154.6 L154,154.76 L155.1,154.44 L156.2,154.21 L157.3,154.71 L158.4,154.71 L159.5,154.98 L160.6,155.46 L161.7,155.23 L162.8,155.09 L163.9,155.26 L165,155.39 L166.1,154.77 L167.2,155.76 L168.3,155.69 L169.4,155.85 L170.5,155.83 L171.6,155.45 L172.7,155.51 L173.8,155.25 L174.9,155.89 L176,155.32 L177.1,155.38 L178.2,155.59 L179.3,155.59 L180.4,155.84 L181.5,155.58 L182.6,155.57 L183.7,155.78 L184.8,155.78 L185.9,156.11 L187,155.79 L188.1,156.77 L189.2,156.53 L190.3,156.06 L191.4,156.22 L192.5,156.37 L193.6,156.43 L194.7,156.21 L195.8,157.05 L196.9,157.25 L198,156.72 L199.1,156.78 L200.2,156.38 L201.3,156.44 L202.4,156.74 L203.5,156.69 L204.6,157.35 L205.7,156.65 L206.8,156.53 L207.9,157.59 L209,157.15 L210.1,156.76 L211.2,157.23 L212.3,156.69 L213.4,157.26 L214.5,157.79 L215.6,157.68 L216.7,157.52 L217.8,157.07 L218.9,157.21 L220,157.01 L221.1,157.7 L222.2,157.46 L223.3,157.75 L224.4,157.28 L225.5,157.18 L226.6,157.86 L227.7,158.07 L228.8,157.95 L229.9,157.92 L231,157.95 L232.1,157.89 L233.2,157.34 L234.3,157.68 L235.4,157.53 L236.5,157.19 L237.6,157.21 L238.7,157.51 L239.8,157.5 L240.9,158 L242,158.31 L243.1,157.77 L244.2,158.33 L245.3,158.41 L246.4,158.4 L247.5,157.77 L248.6,157.64 L249.7,157.67 L250.8,157.66 L251.9,157.7 L253,158.18 L254.1,158.51 L255.2,158.47 L256.3,158.09 L257.4,158.3 L258.5,158.49 L259.6,157.73 L260.7,158.4 L261.8,158.71 L262.9,158.61 L264,158.62 L265.1,158.37 L266.2,158.1 L267.3,158.84 L268.4,158.4 L269.5,158.99 L270.6,159.26 L271.7,158.71 L272.8,158.8 L273.9,159.49 L275,159.33 L276.1,158.81 L277.2,158.86 L278.3,158.98 L279.4,159.9 L280.5,159.88 L281.6,159.24 L282.7,160.07 L283.8,160.32 L284.9,160.05 L286,159.78 L287.1,160.08 L288.2,159.69 L289.3,159.62 L290.4,160.74 L291.5,160.44 L292.6,160.37 L293.7,160.87 L294.8,160.38 L295.9,160.91 L297,160.91 L298.1,160.29 L299.2,160.38 L300.3,160.47 L301.4,160.46 L302.5,160.89 L303.6,160.58 L304.7,160.8 L305.8,160.53 L306.9,161.43 L308,160.87 L309.1,161.03 L310.2,161.21 L311.3,161.61 L312.4,161.12 L313.5,161.71 L314.6,161.3 L315.7,161.37 L316.8,161.41 L317.9,160.9 L319,161.41 L320.1,161.17 L321.2,161.02 L322.3,161.94 L323.4,161.3 L324.5,161.68 L325.6,162 L326.7,161.86 L327.8,161.66 L328.9,161.92 L330,162 L331.1,162.3 L332.2,161.6 L333.3,162.15 L334.4,161.85 L335.5,161.93 L336.6,162.52 L337.7,162.28 L338.8,162.38 L339.9,162.65 L341,162.86 L342.1,162.39 L343.2,162.63 L344.3,162.56 L345.4,162.61" fill="none" stroke="#ee1f24" stroke-width="3.6" stroke-linejoin="round" stroke-linecap="round" />
<circle cx="91.2" cy="146.6" r="1" fill="#111"/>
<line x1="91.2" y1="147.5" x2="91.2" y2="151" stroke="#9ab" stroke-width="0.6"/>
<circle cx="91.3" cy="156.5" r="0.9" fill="#ee1f24"/>
<circle cx="119.5" cy="155.9" r="0.7" fill="#111"/>
<circle cx="201.1" cy="159.9" r="0.8" fill="#111"/>
<circle cx="246.7" cy="159.7" r="0.7" fill="#111"/>
<circle cx="267.6" cy="153.7" r="0.9" fill="#111"/>
<circle cx="267.6" cy="162.9" r="0.9" fill="#ee1f24"/>
<circle cx="332" cy="164.2" r="0.7" fill="#111"/>
<circle cx="343" cy="165.4" r="0.9" fill="#111"/>
<path d="M77.1,157.9 L77.1,163.7 L54.7,163.7" fill="none" stroke="#333" stroke-width="0.9" stroke-linejoin="round" stroke-linecap="round" />
<path d="M54.7,163.7 L58.7,162.1 L58.7,165.3 Z" fill="#333"/>
<path d="M307.9,139.7 L307.9,145.9 L329.7,145.9" fill="none" stroke="#333" stroke-width="0.9" stroke-linejoin="round" stroke-linecap="round" />
<path d="M329.7,145.9 L325.7,144.3 L325.7,147.5 Z" fill="#333"/>
<rect x="112.3" y="177.3" width="54.1" height="19.5" fill="#fff" stroke="#b2b2b2" stroke-width="0.9"/>
<line x1="115.5" y1="181.6" x2="134.6" y2="181.6" stroke="#f04040" stroke-width="0.8"/>
<circle cx="125" cy="181.6" r="1" fill="#e8262a"/>
<text x="137.7" y="184.1" text-anchor="start" font-size="7" fill="#444444"  textLength="19.8" lengthAdjust="spacingAndGlyphs">Charge</text>
<line x1="115.5" y1="191.8" x2="134.6" y2="191.8" stroke="#222" stroke-width="0.8"/>
<circle cx="125" cy="191.8" r="1" fill="#111"/>
<text x="137.7" y="194.3" text-anchor="start" font-size="7" fill="#444444"  textLength="28" lengthAdjust="spacingAndGlyphs">Discharge</text>
<text x="10.7" y="247.9" font-size="7.8" font-weight="bold" fill="#111">c</text>
<rect x="38.5" y="244" width="133.5" height="96.5" fill="none" stroke="#bcbcbc" stroke-width="1"/>
<line x1="35.5" y1="332.8" x2="38.5" y2="332.8" stroke="#bcbcbc" stroke-width="1"/>
<text x="34" y="335.3" text-anchor="end" font-size="7" fill="#444444" >0.0</text>
<line x1="36.7" y1="324.7" x2="38.5" y2="324.7" stroke="#bcbcbc" stroke-width="1"/>
<line x1="35.5" y1="316.6" x2="38.5" y2="316.6" stroke="#bcbcbc" stroke-width="1"/>
<text x="34" y="319.1" text-anchor="end" font-size="7" fill="#444444" >0.2</text>
<line x1="36.7" y1="308.5" x2="38.5" y2="308.5" stroke="#bcbcbc" stroke-width="1"/>
<line x1="35.5" y1="300.4" x2="38.5" y2="300.4" stroke="#bcbcbc" stroke-width="1"/>
<text x="34" y="302.9" text-anchor="end" font-size="7" fill="#444444" >0.4</text>
<line x1="36.7" y1="292.3" x2="38.5" y2="292.3" stroke="#bcbcbc" stroke-width="1"/>
<line x1="35.5" y1="284.2" x2="38.5" y2="284.2" stroke="#bcbcbc" stroke-width="1"/>
<text x="34" y="286.7" text-anchor="end" font-size="7" fill="#444444" >0.6</text>
<line x1="36.7" y1="276.1" x2="38.5" y2="276.1" stroke="#bcbcbc" stroke-width="1"/>
<line x1="35.5" y1="268" x2="38.5" y2="268" stroke="#bcbcbc" stroke-width="1"/>
<text x="34" y="270.5" text-anchor="end" font-size="7" fill="#444444" >0.8</text>
<line x1="36.7" y1="259.9" x2="38.5" y2="259.9" stroke="#bcbcbc" stroke-width="1"/>
<line x1="35.5" y1="251.8" x2="38.5" y2="251.8" stroke="#bcbcbc" stroke-width="1"/>
<text x="34" y="254.3" text-anchor="end" font-size="7" fill="#444444" >1.0</text>
<line x1="48.9" y1="340.5" x2="48.9" y2="343.5" stroke="#bcbcbc" stroke-width="1"/>
<text x="48.9" y="351.3" text-anchor="middle" font-size="7" fill="#444444" >0</text>
<line x1="62.33" y1="340.5" x2="62.33" y2="342.3" stroke="#bcbcbc" stroke-width="1"/>
<line x1="75.75" y1="340.5" x2="75.75" y2="343.5" stroke="#bcbcbc" stroke-width="1"/>
<text x="75.75" y="351.3" text-anchor="middle" font-size="7" fill="#444444" >200</text>
<line x1="89.18" y1="340.5" x2="89.18" y2="342.3" stroke="#bcbcbc" stroke-width="1"/>
<line x1="102.6" y1="340.5" x2="102.6" y2="343.5" stroke="#bcbcbc" stroke-width="1"/>
<text x="102.6" y="351.3" text-anchor="middle" font-size="7" fill="#444444" >400</text>
<line x1="116.03" y1="340.5" x2="116.03" y2="342.3" stroke="#bcbcbc" stroke-width="1"/>
<line x1="129.45" y1="340.5" x2="129.45" y2="343.5" stroke="#bcbcbc" stroke-width="1"/>
<text x="129.45" y="351.3" text-anchor="middle" font-size="7" fill="#444444" >600</text>
<line x1="142.88" y1="340.5" x2="142.88" y2="342.3" stroke="#bcbcbc" stroke-width="1"/>
<line x1="156.3" y1="340.5" x2="156.3" y2="343.5" stroke="#bcbcbc" stroke-width="1"/>
<text x="156.3" y="351.3" text-anchor="middle" font-size="7" fill="#444444" >800</text>
<line x1="169.72" y1="340.5" x2="169.72" y2="342.3" stroke="#bcbcbc" stroke-width="1"/>
<text x="105.5" y="360.4" text-anchor="middle" font-size="7" fill="#444444"  textLength="55" lengthAdjust="spacingAndGlyphs">Capacity (mAh g<tspan font-size="5" dy="-2.5">−1</tspan><tspan dy="2.5">)</tspan></text>
<text transform="translate(14.4,289.7) rotate(-90)" x="0" y="0" text-anchor="middle" dominant-baseline="central" font-size="7" fill="#444444" textLength="31.6" lengthAdjust="spacingAndGlyphs">Voltage (V)</text>
<text x="105.8" y="256.6" text-anchor="middle" font-size="7" fill="#444444"  textLength="28.2" lengthAdjust="spacingAndGlyphs">Discharge</text>
<text x="110.5" y="334.8" text-anchor="middle" font-size="7" fill="#444444"  textLength="20.3" lengthAdjust="spacingAndGlyphs">Charge</text>
<path d="M48.9,281.7 L49,282.22 L49.13,282.91 L49.29,283.72 L49.46,284.63 L49.65,285.6 L49.86,286.59 L50.08,287.57 L50.3,288.5 L50.52,289.4 L50.74,290.3 L50.97,291.22 L51.22,292.14 L51.49,293.08 L51.78,294.04 L52.12,295.01 L52.5,296 L52.94,297.03 L53.43,298.11 L53.96,299.22 L54.52,300.34 L55.1,301.45 L55.68,302.53 L56.25,303.55 L56.8,304.5 L57.32,305.38 L57.83,306.2 L58.34,306.97 L58.84,307.71 L59.36,308.43 L59.88,309.12 L60.43,309.81 L61,310.5 L61.59,311.18 L62.17,311.85 L62.77,312.5 L63.39,313.13 L64.03,313.76 L64.71,314.37 L65.43,314.99 L66.2,315.6 L67.02,316.22 L67.87,316.85 L68.76,317.49 L69.69,318.11 L70.65,318.72 L71.66,319.29 L72.71,319.82 L73.8,320.3 L74.95,320.72 L76.15,321.1 L77.4,321.44 L78.69,321.75 L80.01,322.03 L81.34,322.3 L82.67,322.55 L84,322.8 L85.23,323.03 L86.35,323.23 L87.42,323.4 L88.53,323.57 L89.76,323.73 L91.17,323.9 L92.86,324.09 L94.9,324.3 L97.37,324.54 L100.23,324.8 L103.37,325.08 L106.71,325.36 L110.12,325.65 L113.51,325.94 L116.77,326.23 L119.8,326.5 L122.63,326.77 L125.36,327.03 L128.02,327.29 L130.62,327.55 L133.21,327.81 L135.78,328.07 L138.37,328.33 L141,328.6 L143.8,328.89 L146.82,329.19 L149.92,329.51 L152.97,329.83 L155.87,330.13 L158.47,330.4 L160.66,330.63 L162.3,330.8" fill="none" stroke="#d8d8d8" stroke-width="1.0" stroke-linejoin="round" stroke-linecap="round" />
<path d="M49.1,325.8 L49.22,325.48 L49.36,325.07 L49.53,324.57 L49.73,324.02 L49.95,323.43 L50.18,322.81 L50.43,322.2 L50.69,321.6 L50.97,321 L51.27,320.38 L51.58,319.74 L51.91,319.08 L52.25,318.42 L52.61,317.77 L52.98,317.12 L53.35,316.5 L53.73,315.89 L54.13,315.28 L54.53,314.67 L54.95,314.07 L55.38,313.49 L55.82,312.91 L56.27,312.35 L56.73,311.8 L57.21,311.27 L57.69,310.76 L58.19,310.26 L58.7,309.77 L59.22,309.29 L59.76,308.82 L60.3,308.36 L60.86,307.9 L61.45,307.44 L62.06,306.99 L62.68,306.55 L63.32,306.11 L63.96,305.69 L64.59,305.27 L65.21,304.88 L65.8,304.5 L66.33,304.16 L66.81,303.85 L67.25,303.58 L67.69,303.31 L68.16,303.03 L68.69,302.73 L69.32,302.39 L70.07,302 L70.94,301.55 L71.9,301.07 L72.93,300.55 L74.04,300.01 L75.2,299.45 L76.42,298.87 L77.68,298.29 L78.97,297.7 L80.34,297.11 L81.79,296.53 L83.3,295.93 L84.85,295.32 L86.43,294.69 L88,294.03 L89.54,293.33 L91.03,292.6 L92.49,291.84 L93.96,291.05 L95.41,290.24 L96.85,289.39 L98.27,288.51 L99.66,287.59 L101.02,286.62 L102.34,285.6 L103.62,284.51 L104.84,283.35 L106.03,282.14 L107.2,280.89 L108.35,279.61 L109.49,278.33 L110.63,277.05 L111.79,275.8 L112.95,274.55 L114.11,273.3 L115.26,272.03 L116.41,270.77 L117.56,269.51 L118.71,268.26 L119.87,267.02 L121.03,265.8 L122.21,264.58 L123.42,263.33 L124.64,262.09 L125.85,260.86 L127.05,259.66 L128.22,258.53 L129.35,257.47 L130.41,256.5 L131.46,255.61 L132.53,254.77 L133.57,253.99 L134.58,253.27 L135.5,252.62 L136.33,252.06 L137.03,251.58 L137.56,251.2" fill="none" stroke="#d8d8d8" stroke-width="1.0" stroke-linejoin="round" stroke-linecap="round" />
<path d="M49.1,325.8 L49.2,325.48 L49.33,325.07 L49.48,324.57 L49.66,324.02 L49.85,323.43 L50.06,322.81 L50.28,322.2 L50.52,321.6 L50.77,321 L51.03,320.38 L51.32,319.74 L51.62,319.08 L51.93,318.42 L52.25,317.77 L52.59,317.12 L52.93,316.5 L53.29,315.89 L53.65,315.28 L54.03,314.67 L54.42,314.07 L54.82,313.49 L55.23,312.91 L55.65,312.35 L56.09,311.8 L56.54,311.27 L57,310.76 L57.48,310.26 L57.96,309.77 L58.46,309.29 L58.97,308.82 L59.5,308.36 L60.04,307.9 L60.6,307.44 L61.19,306.99 L61.79,306.55 L62.41,306.11 L63.03,305.69 L63.64,305.27 L64.24,304.88 L64.81,304.5 L65.33,304.16 L65.79,303.85 L66.21,303.58 L66.64,303.31 L67.1,303.03 L67.62,302.73 L68.23,302.39 L68.96,302 L69.81,301.55 L70.74,301.07 L71.76,300.55 L72.83,300.01 L73.97,299.45 L75.16,298.87 L76.4,298.29 L77.66,297.7 L79,297.11 L80.42,296.53 L81.9,295.93 L83.43,295.32 L84.97,294.69 L86.51,294.03 L88.02,293.33 L89.48,292.6 L90.9,291.84 L92.31,291.05 L93.72,290.24 L95.11,289.39 L96.48,288.51 L97.83,287.59 L99.16,286.62 L100.46,285.6 L101.72,284.51 L102.96,283.35 L104.16,282.14 L105.35,280.89 L106.52,279.61 L107.69,278.33 L108.87,277.05 L110.05,275.8 L111.23,274.55 L112.41,273.3 L113.58,272.03 L114.75,270.77 L115.92,269.51 L117.09,268.26 L118.27,267.02 L119.45,265.8 L120.65,264.58 L121.88,263.33 L123.12,262.09 L124.36,260.86 L125.58,259.66 L126.77,258.53 L127.91,257.47 L128.99,256.5 L130.06,255.61 L131.13,254.77 L132.19,253.99 L133.21,253.27 L134.15,252.62 L134.98,252.06 L135.69,251.58 L136.23,251.2" fill="none" stroke="#5cc05c" stroke-width="1.1" stroke-linejoin="round" stroke-linecap="round" />
<path d="M49.1,325.8 L49.18,325.48 L49.27,325.07 L49.38,324.57 L49.51,324.02 L49.66,323.43 L49.81,322.81 L49.98,322.2 L50.17,321.6 L50.36,321 L50.57,320.38 L50.79,319.74 L51.03,319.08 L51.28,318.42 L51.54,317.77 L51.81,317.12 L52.1,316.5 L52.39,315.89 L52.7,315.28 L53.02,314.67 L53.35,314.07 L53.69,313.49 L54.05,312.91 L54.42,312.35 L54.81,311.8 L55.21,311.27 L55.62,310.76 L56.05,310.26 L56.49,309.77 L56.94,309.29 L57.41,308.82 L57.89,308.36 L58.38,307.9 L58.9,307.44 L59.45,306.99 L60.01,306.55 L60.59,306.11 L61.17,305.69 L61.74,305.27 L62.3,304.88 L62.84,304.5 L63.32,304.16 L63.75,303.85 L64.15,303.58 L64.55,303.31 L64.98,303.03 L65.48,302.73 L66.05,302.39 L66.75,302 L67.55,301.55 L68.44,301.07 L69.4,300.55 L70.43,300.01 L71.52,299.45 L72.65,298.87 L73.83,298.29 L75.04,297.7 L76.32,297.11 L77.68,296.53 L79.11,295.93 L80.58,295.32 L82.06,294.69 L83.54,294.03 L84.98,293.33 L86.37,292.6 L87.71,291.84 L89.03,291.05 L90.33,290.24 L91.62,289.39 L92.9,288.51 L94.16,287.59 L95.43,286.62 L96.69,285.6 L97.94,284.51 L99.19,283.35 L100.43,282.14 L101.66,280.89 L102.88,279.61 L104.11,278.33 L105.33,277.05 L106.55,275.8 L107.78,274.55 L109,273.3 L110.21,272.03 L111.43,270.77 L112.64,269.51 L113.85,268.26 L115.07,267.02 L116.3,265.8 L117.54,264.58 L118.81,263.33 L120.09,262.09 L121.37,260.86 L122.63,259.66 L123.85,258.53 L125.03,257.47 L126.15,256.5 L127.24,255.61 L128.35,254.77 L129.43,253.99 L130.47,253.27 L131.43,252.62 L132.29,252.06 L133.01,251.58 L133.56,251.2" fill="none" stroke="#e84a4a" stroke-width="1.1" stroke-linejoin="round" stroke-linecap="round" />
<path d="M49.1,325.8 L49.16,325.48 L49.24,325.07 L49.34,324.57 L49.44,324.02 L49.56,323.43 L49.7,322.81 L49.84,322.2 L50,321.6 L50.17,321 L50.35,320.38 L50.54,319.74 L50.75,319.08 L50.97,318.42 L51.2,317.77 L51.44,317.12 L51.7,316.5 L51.97,315.89 L52.25,315.28 L52.54,314.67 L52.84,314.07 L53.16,313.49 L53.49,312.91 L53.84,312.35 L54.2,311.8 L54.58,311.27 L54.97,310.76 L55.37,310.26 L55.79,309.77 L56.22,309.29 L56.67,308.82 L57.13,308.36 L57.6,307.9 L58.1,307.44 L58.62,306.99 L59.17,306.55 L59.73,306.11 L60.28,305.69 L60.84,305.27 L61.38,304.88 L61.9,304.5 L62.37,304.16 L62.78,303.85 L63.17,303.58 L63.56,303.31 L63.98,303.03 L64.46,302.73 L65.02,302.39 L65.7,302 L66.49,301.55 L67.35,301.07 L68.29,300.55 L69.29,300.01 L70.35,299.45 L71.46,298.87 L72.61,298.29 L73.8,297.7 L75.05,297.11 L76.39,296.53 L77.79,295.93 L79.23,295.32 L80.69,294.69 L82.13,294.03 L83.54,293.33 L84.9,292.6 L86.2,291.84 L87.48,291.05 L88.73,290.24 L89.97,289.39 L91.2,288.51 L92.43,287.59 L93.66,286.62 L94.9,285.6 L96.15,284.51 L97.4,283.35 L98.65,282.14 L99.91,280.89 L101.16,279.61 L102.41,278.33 L103.65,277.05 L104.9,275.8 L106.14,274.55 L107.38,273.3 L108.62,272.03 L109.85,270.77 L111.08,269.51 L112.32,268.26 L113.56,267.02 L114.8,265.8 L116.06,264.58 L117.35,263.33 L118.65,262.09 L119.95,260.86 L121.23,259.66 L122.47,258.53 L123.67,257.47 L124.8,256.5 L125.91,255.61 L127.03,254.77 L128.13,253.99 L129.18,253.27 L130.15,252.62 L131.01,252.06 L131.74,251.58 L132.3,251.2" fill="none" stroke="#5064b8" stroke-width="1.1" stroke-linejoin="round" stroke-linecap="round" />
<path d="M49.1,325.8 L49.14,325.48 L49.19,325.07 L49.25,324.57 L49.32,324.02 L49.4,323.43 L49.49,322.81 L49.59,322.2 L49.7,321.6 L49.83,321 L49.96,320.38 L50.1,319.74 L50.25,319.08 L50.42,318.42 L50.6,317.77 L50.79,317.12 L51,316.5 L51.22,315.89 L51.45,315.28 L51.69,314.67 L51.95,314.07 L52.22,313.49 L52.5,312.91 L52.8,312.35 L53.12,311.8 L53.45,311.27 L53.8,310.76 L54.17,310.26 L54.55,309.77 L54.94,309.29 L55.35,308.82 L55.77,308.36 L56.21,307.9 L56.67,307.44 L57.16,306.99 L57.67,306.55 L58.19,306.11 L58.72,305.69 L59.24,305.27 L59.75,304.88 L60.24,304.5 L60.68,304.16 L61.07,303.85 L61.43,303.58 L61.8,303.31 L62.2,303.03 L62.65,302.73 L63.19,302.39 L63.84,302 L64.59,301.55 L65.41,301.07 L66.31,300.55 L67.27,300.01 L68.29,299.45 L69.35,298.87 L70.45,298.29 L71.59,297.7 L72.8,297.11 L74.09,296.53 L75.44,295.93 L76.83,295.32 L78.24,294.69 L79.63,294.03 L80.99,293.33 L82.28,292.6 L83.52,291.84 L84.71,291.05 L85.88,290.24 L87.03,289.39 L88.18,288.51 L89.34,287.59 L90.51,286.62 L91.72,285.6 L92.97,284.51 L94.23,283.35 L95.51,282.14 L96.8,280.89 L98.09,279.61 L99.39,278.33 L100.68,277.05 L101.96,275.8 L103.23,274.55 L104.51,273.3 L105.78,272.03 L107.05,270.77 L108.32,269.51 L109.59,268.26 L110.87,267.02 L112.14,265.8 L113.44,264.58 L114.76,263.33 L116.1,262.09 L117.43,260.86 L118.74,259.66 L120.02,258.53 L121.25,257.47 L122.4,256.5 L123.54,255.61 L124.68,254.77 L125.8,253.99 L126.87,253.27 L127.86,252.62 L128.74,252.06 L129.48,251.58 L130.05,251.2" fill="none" stroke="#7fd4ee" stroke-width="1.1" stroke-linejoin="round" stroke-linecap="round" />
<path d="M49.1,259.2 L49.2,259.83 L49.34,260.68 L49.5,261.7 L49.69,262.82 L49.88,263.99 L50.07,265.17 L50.26,266.29 L50.44,267.3 L50.6,268.22 L50.74,269.09 L50.89,269.94 L51.03,270.78 L51.19,271.61 L51.36,272.45 L51.55,273.31 L51.78,274.2 L52.04,275.13 L52.33,276.1 L52.64,277.08 L52.97,278.07 L53.31,279.06 L53.66,280.02 L54.01,280.94 L54.35,281.8 L54.7,282.61 L55.06,283.4 L55.43,284.15 L55.81,284.87 L56.18,285.56 L56.54,286.23 L56.9,286.88 L57.24,287.5 L57.56,288.09 L57.87,288.63 L58.16,289.13 L58.45,289.62 L58.74,290.1 L59.03,290.58 L59.31,291.07 L59.61,291.6 L59.89,292.14 L60.17,292.67 L60.44,293.21 L60.71,293.76 L60.99,294.33 L61.29,294.92 L61.61,295.54 L61.98,296.2 L62.37,296.9 L62.78,297.65 L63.22,298.42 L63.67,299.22 L64.15,300.03 L64.64,300.86 L65.16,301.68 L65.68,302.5 L66.23,303.32 L66.8,304.17 L67.39,305.02 L68,305.88 L68.62,306.74 L69.25,307.58 L69.89,308.4 L70.52,309.2 L71.17,309.99 L71.83,310.78 L72.49,311.56 L73.17,312.33 L73.85,313.07 L74.53,313.77 L75.21,314.42 L75.88,315 L76.55,315.52 L77.21,315.97 L77.87,316.37 L78.53,316.73 L79.19,317.06 L79.86,317.38 L80.54,317.69 L81.24,318 L81.92,318.3 L82.59,318.56 L83.26,318.81 L83.93,319.04 L84.64,319.27 L85.4,319.52 L86.21,319.79 L87.11,320.1 L88.07,320.45 L89.08,320.82 L90.14,321.22 L91.26,321.63 L92.43,322.05 L93.65,322.47 L94.93,322.89 L96.27,323.3 L97.7,323.7 L99.21,324.12 L100.79,324.53 L102.43,324.94 L104.09,325.35 L105.76,325.75 L107.42,326.13 L109.05,326.5 L110.64,326.85 L112.23,327.17 L113.81,327.49 L115.4,327.79 L117,328.09 L118.61,328.39 L120.25,328.69 L121.92,329 L123.72,329.33 L125.69,329.68 L127.74,330.05 L129.78,330.41 L131.72,330.75 L133.47,331.05 L134.93,331.31 L136.03,331.5" fill="none" stroke="#5cc05c" stroke-width="1.1" stroke-linejoin="round" stroke-linecap="round" />
<path d="M49.1,259.2 L49.2,259.83 L49.33,260.68 L49.49,261.7 L49.67,262.82 L49.86,263.99 L50.04,265.17 L50.23,266.29 L50.4,267.3 L50.55,268.22 L50.7,269.09 L50.83,269.94 L50.97,270.78 L51.12,271.61 L51.29,272.45 L51.48,273.31 L51.7,274.2 L51.95,275.13 L52.23,276.1 L52.54,277.08 L52.86,278.07 L53.19,279.06 L53.53,280.02 L53.86,280.94 L54.2,281.8 L54.54,282.61 L54.89,283.4 L55.25,284.15 L55.61,284.87 L55.97,285.56 L56.33,286.23 L56.67,286.88 L57,287.5 L57.31,288.09 L57.61,288.63 L57.9,289.13 L58.18,289.62 L58.46,290.1 L58.74,290.58 L59.02,291.07 L59.3,291.6 L59.58,292.14 L59.84,292.67 L60.11,293.21 L60.37,293.76 L60.64,294.33 L60.93,294.92 L61.25,295.54 L61.6,296.2 L61.98,296.9 L62.38,297.65 L62.81,298.42 L63.25,299.22 L63.71,300.03 L64.19,300.86 L64.69,301.68 L65.2,302.5 L65.73,303.32 L66.29,304.17 L66.86,305.02 L67.45,305.88 L68.05,306.74 L68.66,307.58 L69.28,308.4 L69.9,309.2 L70.53,309.99 L71.16,310.78 L71.81,311.56 L72.47,312.33 L73.13,313.07 L73.79,313.77 L74.45,314.42 L75.1,315 L75.75,315.52 L76.39,315.97 L77.03,316.37 L77.67,316.73 L78.31,317.06 L78.96,317.38 L79.63,317.69 L80.3,318 L80.97,318.3 L81.61,318.56 L82.26,318.81 L82.92,319.04 L83.61,319.27 L84.34,319.52 L85.13,319.79 L86,320.1 L86.94,320.45 L87.92,320.82 L88.95,321.22 L90.03,321.63 L91.17,322.05 L92.35,322.47 L93.6,322.89 L94.9,323.3 L96.28,323.7 L97.75,324.12 L99.29,324.53 L100.88,324.94 L102.49,325.35 L104.11,325.75 L105.72,326.13 L107.3,326.5 L108.85,326.85 L110.39,327.17 L111.93,327.49 L113.47,327.79 L115.02,328.09 L116.59,328.39 L118.18,328.69 L119.8,329 L121.55,329.33 L123.46,329.68 L125.45,330.05 L127.43,330.41 L129.31,330.75 L131.01,331.05 L132.43,331.31 L133.5,331.5" fill="none" stroke="#e84a4a" stroke-width="1.1" stroke-linejoin="round" stroke-linecap="round" />
<path d="M49.1,259.2 L49.2,259.83 L49.33,260.68 L49.49,261.7 L49.66,262.82 L49.85,263.99 L50.04,265.17 L50.22,266.29 L50.39,267.3 L50.54,268.22 L50.68,269.09 L50.82,269.94 L50.96,270.78 L51.1,271.61 L51.27,272.45 L51.46,273.31 L51.67,274.2 L51.92,275.13 L52.2,276.1 L52.5,277.08 L52.82,278.07 L53.15,279.06 L53.48,280.02 L53.82,280.94 L54.15,281.8 L54.48,282.61 L54.83,283.4 L55.19,284.15 L55.55,284.87 L55.9,285.56 L56.26,286.23 L56.6,286.88 L56.92,287.5 L57.23,288.09 L57.53,288.63 L57.81,289.13 L58.09,289.62 L58.37,290.1 L58.64,290.58 L58.92,291.07 L59.2,291.6 L59.47,292.14 L59.74,292.67 L60,293.21 L60.26,293.76 L60.53,294.33 L60.82,294.92 L61.13,295.54 L61.48,296.2 L61.85,296.9 L62.25,297.65 L62.67,298.42 L63.11,299.22 L63.57,300.03 L64.04,300.86 L64.53,301.68 L65.04,302.5 L65.57,303.32 L66.11,304.17 L66.68,305.02 L67.27,305.88 L67.86,306.74 L68.47,307.58 L69.08,308.4 L69.69,309.2 L70.31,309.99 L70.94,310.78 L71.59,311.56 L72.24,312.33 L72.89,313.07 L73.54,313.77 L74.19,314.42 L74.84,315 L75.48,315.52 L76.12,315.97 L76.75,316.37 L77.38,316.73 L78.02,317.06 L78.67,317.38 L79.32,317.69 L79.99,318 L80.65,318.3 L81.29,318.56 L81.93,318.81 L82.58,319.04 L83.26,319.27 L83.99,319.52 L84.77,319.79 L85.63,320.1 L86.56,320.45 L87.53,320.82 L88.55,321.22 L89.62,321.63 L90.74,322.05 L91.92,322.47 L93.15,322.89 L94.44,323.3 L95.81,323.7 L97.27,324.12 L98.79,324.53 L100.36,324.94 L101.95,325.35 L103.56,325.75 L105.16,326.13 L106.72,326.5 L108.25,326.85 L109.78,327.17 L111.3,327.49 L112.83,327.79 L114.36,328.09 L115.91,328.39 L117.49,328.69 L119.09,329 L120.82,329.33 L122.72,329.68 L124.69,330.05 L126.65,330.41 L128.51,330.75 L130.19,331.05 L131.6,331.31 L132.66,331.5" fill="none" stroke="#5064b8" stroke-width="1.1" stroke-linejoin="round" stroke-linecap="round" />
<path d="M49.1,259.2 L49.2,259.83 L49.33,260.68 L49.48,261.7 L49.65,262.82 L49.83,263.99 L50.02,265.17 L50.19,266.29 L50.36,267.3 L50.51,268.22 L50.65,269.09 L50.78,269.94 L50.92,270.78 L51.06,271.61 L51.22,272.45 L51.41,273.31 L51.62,274.2 L51.87,275.13 L52.14,276.1 L52.43,277.08 L52.74,278.07 L53.07,279.06 L53.39,280.02 L53.72,280.94 L54.05,281.8 L54.38,282.61 L54.72,283.4 L55.07,284.15 L55.42,284.87 L55.77,285.56 L56.11,286.23 L56.44,286.88 L56.76,287.5 L57.07,288.09 L57.35,288.63 L57.64,289.13 L57.91,289.62 L58.18,290.1 L58.45,290.58 L58.72,291.07 L58.99,291.6 L59.26,292.14 L59.52,292.67 L59.78,293.21 L60.03,293.76 L60.3,294.33 L60.58,294.92 L60.89,295.54 L61.23,296.2 L61.59,296.9 L61.98,297.65 L62.4,298.42 L62.83,299.22 L63.27,300.03 L63.74,300.86 L64.22,301.68 L64.72,302.5 L65.23,303.32 L65.77,304.17 L66.33,305.02 L66.9,305.88 L67.48,306.74 L68.08,307.58 L68.68,308.4 L69.28,309.2 L69.88,309.99 L70.5,310.78 L71.13,311.56 L71.77,312.33 L72.41,313.07 L73.05,313.77 L73.69,314.42 L74.32,315 L74.95,315.52 L75.57,315.97 L76.19,316.37 L76.81,316.73 L77.44,317.06 L78.07,317.38 L78.71,317.69 L79.36,318 L80.01,318.3 L80.64,318.56 L81.27,318.81 L81.9,319.04 L82.57,319.27 L83.28,319.52 L84.05,319.79 L84.89,320.1 L85.8,320.45 L86.75,320.82 L87.75,321.22 L88.8,321.63 L89.9,322.05 L91.06,322.47 L92.26,322.89 L93.53,323.3 L94.87,323.7 L96.29,324.12 L97.78,324.53 L99.32,324.94 L100.89,325.35 L102.46,325.75 L104.02,326.13 L105.55,326.5 L107.06,326.85 L108.55,327.17 L110.04,327.49 L111.54,327.79 L113.04,328.09 L114.56,328.39 L116.11,328.69 L117.68,329 L119.38,329.33 L121.23,329.68 L123.16,330.05 L125.08,330.41 L126.91,330.75 L128.55,331.05 L129.93,331.31 L130.97,331.5" fill="none" stroke="#7fd4ee" stroke-width="1.1" stroke-linejoin="round" stroke-linecap="round" />
<rect x="121.5" y="275.1" width="43.6" height="38.3" fill="#fff" stroke="#b2b2b2" stroke-width="0.9"/>
<line x1="124.4" y1="279.5" x2="138.1" y2="279.5" stroke="#dcdcdc" stroke-width="1.3"/>
<text x="140" y="282" text-anchor="start" font-size="7" fill="#444444"  textLength="24" lengthAdjust="spacingAndGlyphs">1st cycle</text>
<line x1="124.4" y1="286.98" x2="138.1" y2="286.98" stroke="#8ccf8c" stroke-width="1.3"/>
<text x="140" y="289.48" text-anchor="start" font-size="7" fill="#444444"  textLength="22.2" lengthAdjust="spacingAndGlyphs">1,000th</text>
<line x1="124.4" y1="294.46" x2="138.1" y2="294.46" stroke="#f05050" stroke-width="1.3"/>
<text x="140" y="296.96" text-anchor="start" font-size="7" fill="#444444"  textLength="22.2" lengthAdjust="spacingAndGlyphs">2,000th</text>
<line x1="124.4" y1="301.94" x2="138.1" y2="301.94" stroke="#7080c8" stroke-width="1.3"/>
<text x="140" y="304.44" text-anchor="start" font-size="7" fill="#444444"  textLength="22.2" lengthAdjust="spacingAndGlyphs">3,000th</text>
<line x1="124.4" y1="309.42" x2="138.1" y2="309.42" stroke="#a0e0f0" stroke-width="1.3"/>
<text x="140" y="311.92" text-anchor="start" font-size="7" fill="#444444"  textLength="22.2" lengthAdjust="spacingAndGlyphs">6,000th</text>
<text x="185.2" y="248" font-size="7.8" font-weight="bold" fill="#111">d</text>
<rect x="210.5" y="244" width="135.5" height="96.5" fill="none" stroke="#bcbcbc" stroke-width="1"/>
<line x1="208.7" y1="340.43" x2="210.5" y2="340.43" stroke="#bcbcbc" stroke-width="1"/>
<line x1="207.5" y1="332.3" x2="210.5" y2="332.3" stroke="#bcbcbc" stroke-width="1"/>
<text x="206" y="334.8" text-anchor="end" font-size="7" fill="#444444" >0.0</text>
<line x1="208.7" y1="324.17" x2="210.5" y2="324.17" stroke="#bcbcbc" stroke-width="1"/>
<line x1="207.5" y1="316.04" x2="210.5" y2="316.04" stroke="#bcbcbc" stroke-width="1"/>
<text x="206" y="318.54" text-anchor="end" font-size="7" fill="#444444" >0.2</text>
<line x1="208.7" y1="307.91" x2="210.5" y2="307.91" stroke="#bcbcbc" stroke-width="1"/>
<line x1="207.5" y1="299.78" x2="210.5" y2="299.78" stroke="#bcbcbc" stroke-width="1"/>
<text x="206" y="302.28" text-anchor="end" font-size="7" fill="#444444" >0.4</text>
<line x1="208.7" y1="291.65" x2="210.5" y2="291.65" stroke="#bcbcbc" stroke-width="1"/>
<line x1="207.5" y1="283.52" x2="210.5" y2="283.52" stroke="#bcbcbc" stroke-width="1"/>
<text x="206" y="286.02" text-anchor="end" font-size="7" fill="#444444" >0.6</text>
<line x1="208.7" y1="275.39" x2="210.5" y2="275.39" stroke="#bcbcbc" stroke-width="1"/>
<line x1="207.5" y1="267.26" x2="210.5" y2="267.26" stroke="#bcbcbc" stroke-width="1"/>
<text x="206" y="269.76" text-anchor="end" font-size="7" fill="#444444" >0.8</text>
<line x1="208.7" y1="259.13" x2="210.5" y2="259.13" stroke="#bcbcbc" stroke-width="1"/>
<line x1="207.5" y1="251" x2="210.5" y2="251" stroke="#bcbcbc" stroke-width="1"/>
<text x="206" y="253.5" text-anchor="end" font-size="7" fill="#444444" >1.0</text>
<line x1="219.5" y1="340.5" x2="219.5" y2="343.5" stroke="#bcbcbc" stroke-width="1"/>
<text x="219.5" y="351.3" text-anchor="middle" font-size="7" fill="#444444" >0</text>
<line x1="241.43" y1="340.5" x2="241.43" y2="342.3" stroke="#bcbcbc" stroke-width="1"/>
<line x1="263.35" y1="340.5" x2="263.35" y2="343.5" stroke="#bcbcbc" stroke-width="1"/>
<text x="263.35" y="351.3" text-anchor="middle" font-size="7" fill="#444444" >500</text>
<line x1="285.27" y1="340.5" x2="285.27" y2="342.3" stroke="#bcbcbc" stroke-width="1"/>
<line x1="307.2" y1="340.5" x2="307.2" y2="343.5" stroke="#bcbcbc" stroke-width="1"/>
<text x="307.2" y="351.3" text-anchor="middle" font-size="7" fill="#444444" >1,000</text>
<line x1="329.12" y1="340.5" x2="329.12" y2="342.3" stroke="#bcbcbc" stroke-width="1"/>
<text x="277.6" y="360.4" text-anchor="middle" font-size="7" fill="#444444"  textLength="55" lengthAdjust="spacingAndGlyphs">Capacity (mAh g<tspan font-size="5" dy="-2.5">−1</tspan><tspan dy="2.5">)</tspan></text>
<text transform="translate(188.4,290.6) rotate(-90)" x="0" y="0" text-anchor="middle" dominant-baseline="central" font-size="7" fill="#444444" textLength="31.2" lengthAdjust="spacingAndGlyphs">Voltage (V)</text>
<text x="294.6" y="251.7" text-anchor="middle" font-size="7" fill="#444444"  textLength="28.4" lengthAdjust="spacingAndGlyphs">Discharge</text>
<text x="299.7" y="336.5" text-anchor="middle" font-size="7" fill="#444444"  textLength="19.8" lengthAdjust="spacingAndGlyphs">Charge</text>
<path d="M219.4,330.5 L219.44,330.07 L219.5,329.5 L219.57,328.82 L219.65,328.06 L219.73,327.27 L219.82,326.47 L219.91,325.7 L220,325 L220.08,324.35 L220.16,323.7 L220.24,323.07 L220.32,322.44 L220.42,321.82 L220.53,321.2 L220.65,320.6 L220.8,320 L220.97,319.41 L221.14,318.84 L221.33,318.28 L221.54,317.72 L221.76,317.17 L222.01,316.61 L222.29,316.06 L222.6,315.5 L222.94,314.93 L223.3,314.36 L223.69,313.78 L224.1,313.2 L224.54,312.63 L225,312.07 L225.49,311.52 L226,311 L226.54,310.5 L227.1,310.03 L227.68,309.57 L228.29,309.12 L228.93,308.67 L229.59,308.23 L230.28,307.77 L231,307.3 L231.76,306.81 L232.58,306.31 L233.44,305.8 L234.32,305.28 L235.2,304.77 L236.07,304.26 L236.91,303.77 L237.7,303.3 L238.44,302.85 L239.16,302.41 L239.85,301.98 L240.52,301.56 L241.18,301.14 L241.85,300.73 L242.52,300.32 L243.2,299.9 L243.9,299.49 L244.59,299.08 L245.29,298.68 L245.99,298.27 L246.7,297.87 L247.4,297.46 L248.1,297.04 L248.8,296.6 L249.5,296.15 L250.2,295.7 L250.9,295.25 L251.61,294.78 L252.31,294.31 L253.01,293.82 L253.7,293.32 L254.4,292.8 L255.09,292.27 L255.78,291.74 L256.47,291.2 L257.16,290.64 L257.84,290.06 L258.53,289.47 L259.21,288.85 L259.9,288.2 L260.59,287.53 L261.27,286.84 L261.96,286.13 L262.64,285.4 L263.33,284.64 L264.02,283.86 L264.71,283.05 L265.4,282.2 L266.1,281.33 L266.79,280.43 L267.49,279.51 L268.19,278.56 L268.9,277.57 L269.6,276.55 L270.3,275.5 L271,274.4 L271.7,273.26 L272.4,272.09 L273.1,270.89 L273.81,269.64 L274.51,268.36 L275.21,267.05 L275.9,265.69 L276.6,264.3 L277.33,262.77 L278.11,261.05 L278.91,259.24 L279.7,257.42 L280.44,255.68 L281.11,254.1 L281.68,252.78 L282.1,251.8" fill="none" stroke="#ece86a" stroke-width="1.15" stroke-linejoin="round" stroke-linecap="round" />
<path d="M219.4,330 L219.44,329.53 L219.5,328.9 L219.57,328.15 L219.65,327.31 L219.73,326.44 L219.82,325.57 L219.91,324.74 L220,324 L220.08,323.33 L220.16,322.69 L220.24,322.07 L220.32,321.47 L220.42,320.87 L220.53,320.26 L220.65,319.64 L220.8,319 L220.97,318.33 L221.15,317.64 L221.34,316.94 L221.55,316.24 L221.78,315.53 L222.03,314.84 L222.3,314.16 L222.6,313.5 L222.91,312.87 L223.23,312.25 L223.57,311.65 L223.93,311.06 L224.33,310.47 L224.76,309.88 L225.25,309.3 L225.8,308.7 L226.42,308.1 L227.12,307.5 L227.88,306.89 L228.68,306.29 L229.49,305.69 L230.31,305.09 L231.12,304.49 L231.9,303.9 L232.65,303.32 L233.4,302.75 L234.15,302.18 L234.9,301.61 L235.65,301.05 L236.4,300.47 L237.15,299.89 L237.9,299.3 L238.66,298.7 L239.42,298.09 L240.18,297.48 L240.94,296.86 L241.71,296.24 L242.47,295.6 L243.24,294.96 L244,294.3 L244.76,293.64 L245.53,292.97 L246.29,292.29 L247.06,291.61 L247.82,290.91 L248.58,290.19 L249.34,289.46 L250.1,288.7 L250.85,287.93 L251.6,287.14 L252.35,286.33 L253.1,285.51 L253.85,284.67 L254.6,283.81 L255.35,282.92 L256.1,282 L256.86,281.06 L257.62,280.1 L258.38,279.11 L259.15,278.11 L259.92,277.07 L260.68,276.01 L261.44,274.92 L262.2,273.8 L262.95,272.65 L263.7,271.48 L264.45,270.28 L265.2,269.06 L265.95,267.8 L266.7,266.5 L267.45,265.17 L268.2,263.8 L269,262.29 L269.86,260.6 L270.75,258.82 L271.63,257.03 L272.45,255.31 L273.2,253.76 L273.83,252.46 L274.3,251.5" fill="none" stroke="#78d4ec" stroke-width="1.15" stroke-linejoin="round" stroke-linecap="round" />
<path d="M219.4,330.5 L219.44,330.07 L219.5,329.49 L219.57,328.8 L219.65,328.03 L219.73,327.23 L219.82,326.43 L219.91,325.68 L220,325 L220.08,324.39 L220.16,323.8 L220.24,323.24 L220.32,322.69 L220.42,322.14 L220.53,321.6 L220.65,321.06 L220.8,320.5 L220.97,319.93 L221.14,319.35 L221.33,318.77 L221.54,318.19 L221.76,317.61 L222.01,317.05 L222.29,316.51 L222.6,316 L222.94,315.51 L223.3,315.04 L223.69,314.59 L224.1,314.15 L224.54,313.72 L225,313.31 L225.49,312.9 L226,312.5 L226.54,312.1 L227.1,311.72 L227.68,311.34 L228.29,310.97 L228.93,310.62 L229.59,310.27 L230.28,309.93 L231,309.6 L231.74,309.28 L232.5,308.97 L233.29,308.67 L234.11,308.38 L234.95,308.1 L235.83,307.83 L236.75,307.56 L237.7,307.3 L238.71,307.05 L239.77,306.82 L240.87,306.6 L242.01,306.39 L243.16,306.18 L244.32,305.96 L245.47,305.74 L246.6,305.5 L247.72,305.26 L248.85,305.02 L249.97,304.79 L251.1,304.54 L252.23,304.29 L253.35,304.02 L254.48,303.72 L255.6,303.4 L256.72,303.06 L257.83,302.7 L258.94,302.33 L260.06,301.93 L261.17,301.51 L262.28,301.07 L263.39,300.6 L264.5,300.1 L265.61,299.57 L266.72,299.02 L267.83,298.44 L268.94,297.84 L270.06,297.2 L271.17,296.54 L272.28,295.84 L273.4,295.1 L274.52,294.33 L275.65,293.53 L276.77,292.71 L277.9,291.84 L279.03,290.95 L280.15,290.01 L281.28,289.03 L282.4,288 L283.52,286.93 L284.63,285.82 L285.74,284.68 L286.85,283.49 L287.96,282.26 L289.07,280.98 L290.18,279.66 L291.3,278.3 L292.42,276.89 L293.55,275.43 L294.67,273.92 L295.8,272.38 L296.93,270.79 L298.05,269.16 L299.18,267.5 L300.3,265.8 L301.48,263.95 L302.74,261.89 L304.04,259.73 L305.31,257.57 L306.52,255.5 L307.6,253.63 L308.51,252.07 L309.2,250.9" fill="none" stroke="#6cc86c" stroke-width="1.15" stroke-linejoin="round" stroke-linecap="round" />
<path d="M219.4,330.7 L219.44,330.29 L219.5,329.75 L219.57,329.1 L219.65,328.38 L219.73,327.63 L219.82,326.87 L219.91,326.15 L220,325.5 L220.08,324.9 L220.16,324.33 L220.24,323.76 L220.32,323.21 L220.42,322.66 L220.53,322.11 L220.65,321.56 L220.8,321 L220.97,320.43 L221.14,319.84 L221.33,319.26 L221.54,318.67 L221.76,318.09 L222.01,317.53 L222.29,317 L222.6,316.5 L222.94,316.03 L223.3,315.6 L223.69,315.18 L224.1,314.79 L224.54,314.41 L225,314.03 L225.49,313.67 L226,313.3 L226.55,312.94 L227.13,312.58 L227.74,312.23 L228.37,311.89 L229.02,311.56 L229.68,311.24 L230.34,310.91 L231,310.6 L231.63,310.29 L232.24,309.99 L232.84,309.7 L233.46,309.41 L234.11,309.13 L234.82,308.85 L235.61,308.58 L236.5,308.3 L237.51,308.03 L238.63,307.76 L239.83,307.49 L241.09,307.23 L242.39,306.97 L243.68,306.71 L244.96,306.46 L246.2,306.2 L247.4,305.95 L248.6,305.71 L249.8,305.48 L251,305.24 L252.2,305 L253.4,304.75 L254.6,304.49 L255.8,304.2 L257.01,303.9 L258.22,303.59 L259.43,303.28 L260.64,302.95 L261.86,302.6 L263.07,302.23 L264.29,301.83 L265.5,301.4 L266.71,300.94 L267.93,300.46 L269.14,299.96 L270.36,299.44 L271.57,298.88 L272.78,298.29 L273.99,297.67 L275.2,297 L276.4,296.3 L277.6,295.57 L278.8,294.81 L280,294.02 L281.2,293.18 L282.4,292.31 L283.6,291.38 L284.8,290.4 L286.01,289.38 L287.22,288.31 L288.43,287.21 L289.65,286.06 L290.87,284.85 L292.08,283.6 L293.29,282.28 L294.5,280.9 L295.7,279.46 L296.9,277.97 L298.1,276.42 L299.3,274.82 L300.5,273.16 L301.7,271.43 L302.9,269.65 L304.1,267.8 L305.37,265.75 L306.75,263.43 L308.16,260.96 L309.55,258.48 L310.87,256.1 L312.05,253.95 L313.05,252.14 L313.8,250.8" fill="none" stroke="#5470d0" stroke-width="1.15" stroke-linejoin="round" stroke-linecap="round" />
<path d="M219.4,328.5 L219.44,327.99 L219.49,327.3 L219.55,326.48 L219.61,325.57 L219.68,324.62 L219.76,323.68 L219.83,322.79 L219.9,322 L219.96,321.3 L220.01,320.66 L220.05,320.04 L220.1,319.44 L220.16,318.85 L220.24,318.23 L220.35,317.59 L220.5,316.9 L220.68,316.15 L220.89,315.35 L221.13,314.52 L221.39,313.67 L221.67,312.83 L221.96,312 L222.27,311.22 L222.6,310.5 L222.93,309.83 L223.28,309.2 L223.63,308.61 L224.01,308.04 L224.41,307.49 L224.83,306.95 L225.3,306.42 L225.8,305.9 L226.35,305.39 L226.96,304.91 L227.6,304.44 L228.28,303.98 L228.96,303.53 L229.65,303.07 L230.34,302.59 L231,302.1 L231.65,301.59 L232.3,301.08 L232.95,300.56 L233.59,300.03 L234.24,299.49 L234.89,298.94 L235.55,298.38 L236.2,297.8 L236.86,297.21 L237.52,296.6 L238.18,295.99 L238.85,295.36 L239.52,294.71 L240.18,294.06 L240.84,293.39 L241.5,292.7 L242.15,292 L242.81,291.29 L243.46,290.56 L244.11,289.82 L244.75,289.07 L245.4,288.3 L246.05,287.51 L246.7,286.7 L247.35,285.87 L248,285.03 L248.65,284.17 L249.29,283.29 L249.94,282.4 L250.59,281.49 L251.25,280.55 L251.9,279.6 L252.56,278.63 L253.22,277.64 L253.88,276.64 L254.55,275.62 L255.22,274.58 L255.88,273.51 L256.54,272.42 L257.2,271.3 L257.85,270.15 L258.51,268.98 L259.16,267.77 L259.81,266.55 L260.45,265.31 L261.1,264.05 L261.75,262.78 L262.4,261.5 L263.09,260.13 L263.82,258.64 L264.58,257.08 L265.32,255.54 L266.03,254.07 L266.67,252.74 L267.2,251.63 L267.6,250.8" fill="none" stroke="#f05a5a" stroke-width="1.15" stroke-linejoin="round" stroke-linecap="round" />
<path d="M219.4,330.7 L219.45,330.34 L219.51,329.86 L219.59,329.29 L219.67,328.65 L219.76,327.98 L219.84,327.29 L219.93,326.62 L220,326 L220.06,325.4 L220.09,324.8 L220.12,324.19 L220.16,323.58 L220.2,322.97 L220.26,322.37 L220.36,321.78 L220.5,321.2 L220.68,320.63 L220.89,320.06 L221.12,319.5 L221.38,318.95 L221.66,318.41 L221.96,317.89 L222.27,317.38 L222.6,316.9 L222.94,316.44 L223.3,316 L223.67,315.58 L224.06,315.18 L224.47,314.79 L224.9,314.41 L225.34,314.05 L225.8,313.7 L226.27,313.37 L226.75,313.06 L227.24,312.77 L227.75,312.49 L228.29,312.22 L228.85,311.95 L229.45,311.68 L230.1,311.4 L230.77,311.12 L231.44,310.84 L232.14,310.55 L232.88,310.27 L233.67,310 L234.53,309.73 L235.47,309.46 L236.5,309.2 L237.65,308.95 L238.92,308.7 L240.28,308.47 L241.71,308.23 L243.17,308 L244.64,307.77 L246.09,307.54 L247.5,307.3 L248.88,307.07 L250.27,306.84 L251.66,306.62 L253.05,306.4 L254.44,306.17 L255.83,305.93 L257.22,305.68 L258.6,305.4 L259.98,305.11 L261.36,304.82 L262.73,304.51 L264.11,304.19 L265.48,303.86 L266.85,303.5 L268.23,303.11 L269.6,302.7 L270.97,302.26 L272.35,301.81 L273.72,301.34 L275.09,300.84 L276.47,300.32 L277.84,299.75 L279.22,299.15 L280.6,298.5 L281.98,297.81 L283.37,297.09 L284.76,296.33 L286.15,295.53 L287.54,294.69 L288.93,293.81 L290.32,292.88 L291.7,291.9 L293.08,290.88 L294.45,289.82 L295.83,288.72 L297.2,287.57 L298.57,286.37 L299.95,285.11 L301.32,283.79 L302.7,282.4 L304.08,280.95 L305.47,279.44 L306.86,277.88 L308.25,276.26 L309.64,274.57 L311.03,272.82 L312.42,270.99 L313.8,269.1 L315.25,266.99 L316.81,264.59 L318.42,262.04 L319.99,259.47 L321.49,257 L322.83,254.76 L323.95,252.89 L324.8,251.5" fill="none" stroke="#555555" stroke-width="1.15" stroke-linejoin="round" stroke-linecap="round" />
<path d="M219.4,256 L219.44,256.54 L219.48,257.25 L219.53,258.09 L219.59,259.03 L219.65,260.03 L219.73,261.05 L219.81,262.05 L219.9,263 L220,263.91 L220.1,264.82 L220.21,265.73 L220.33,266.66 L220.46,267.59 L220.6,268.54 L220.74,269.51 L220.9,270.5 L221.07,271.51 L221.25,272.55 L221.43,273.61 L221.63,274.69 L221.84,275.77 L222.05,276.85 L222.27,277.93 L222.5,279 L222.73,280.05 L222.96,281.08 L223.2,282.1 L223.45,283.12 L223.71,284.17 L223.99,285.23 L224.28,286.34 L224.6,287.5 L224.95,288.73 L225.32,290.04 L225.72,291.4 L226.13,292.78 L226.55,294.16 L226.97,295.5 L227.39,296.79 L227.8,298 L228.19,299.1 L228.57,300.11 L228.95,301.06 L229.33,301.97 L229.71,302.9 L230.12,303.85 L230.54,304.88 L231,306 L231.46,307.28 L231.92,308.7 L232.38,310.21 L232.87,311.75 L233.4,313.25 L233.98,314.65 L234.65,315.89 L235.4,316.9 L236.27,317.68 L237.25,318.28 L238.3,318.73 L239.42,319.08 L240.56,319.36 L241.71,319.59 L242.83,319.83 L243.9,320.1 L244.86,320.35 L245.72,320.54 L246.53,320.68 L247.36,320.8 L248.25,320.94 L249.29,321.11 L250.52,321.36 L252,321.7 L253.81,322.15 L255.93,322.67 L258.27,323.26 L260.73,323.89 L263.22,324.54 L265.65,325.21 L267.95,325.87 L270,326.5 L271.91,327.15 L273.8,327.85 L275.64,328.58 L277.38,329.3 L278.97,329.98 L280.38,330.6 L281.57,331.11 L282.5,331.5" fill="none" stroke="#ece86a" stroke-width="1.15" stroke-linejoin="round" stroke-linecap="round" />
<path d="M219.4,257 L219.44,257.49 L219.48,258.14 L219.53,258.92 L219.59,259.78 L219.65,260.7 L219.73,261.65 L219.81,262.6 L219.9,263.5 L220,264.38 L220.1,265.28 L220.21,266.2 L220.33,267.12 L220.46,268.07 L220.6,269.03 L220.74,270.01 L220.9,271 L221.07,272.01 L221.25,273.05 L221.43,274.11 L221.63,275.19 L221.84,276.27 L222.05,277.35 L222.27,278.43 L222.5,279.5 L222.73,280.55 L222.97,281.59 L223.22,282.62 L223.47,283.66 L223.73,284.7 L224.01,285.77 L224.3,286.87 L224.6,288 L224.92,289.19 L225.27,290.42 L225.62,291.68 L225.99,292.97 L226.37,294.26 L226.75,295.54 L227.13,296.79 L227.5,298 L227.86,299.17 L228.22,300.3 L228.58,301.41 L228.94,302.51 L229.31,303.6 L229.69,304.71 L230.09,305.84 L230.5,307 L230.9,308.23 L231.26,309.52 L231.61,310.85 L231.99,312.18 L232.42,313.48 L232.92,314.73 L233.54,315.88 L234.3,316.9 L235.23,317.8 L236.33,318.6 L237.54,319.32 L238.83,319.97 L240.15,320.57 L241.47,321.13 L242.73,321.67 L243.9,322.2 L244.96,322.7 L245.96,323.13 L246.91,323.53 L247.85,323.89 L248.8,324.25 L249.79,324.61 L250.85,324.99 L252,325.4 L253.26,325.85 L254.6,326.33 L256,326.82 L257.45,327.32 L258.92,327.82 L260.38,328.31 L261.81,328.77 L263.2,329.2 L264.62,329.62 L266.12,330.04 L267.65,330.45 L269.15,330.84 L270.56,331.2 L271.83,331.52 L272.89,331.79 L273.7,332" fill="none" stroke="#78d4ec" stroke-width="1.15" stroke-linejoin="round" stroke-linecap="round" />
<path d="M219.4,258.6 L219.44,259.05 L219.48,259.63 L219.54,260.33 L219.6,261.11 L219.67,261.95 L219.74,262.81 L219.82,263.67 L219.9,264.5 L219.98,265.31 L220.06,266.14 L220.15,266.98 L220.24,267.84 L220.34,268.72 L220.44,269.62 L220.56,270.55 L220.7,271.5 L220.85,272.49 L221.01,273.52 L221.18,274.58 L221.37,275.66 L221.56,276.75 L221.77,277.84 L221.98,278.93 L222.2,280 L222.43,281.05 L222.66,282.09 L222.91,283.12 L223.16,284.16 L223.43,285.2 L223.7,286.27 L224,287.37 L224.3,288.5 L224.62,289.69 L224.97,290.92 L225.33,292.18 L225.71,293.47 L226.08,294.76 L226.46,296.04 L226.84,297.29 L227.2,298.5 L227.55,299.67 L227.9,300.81 L228.24,301.93 L228.57,303.04 L228.92,304.14 L229.27,305.25 L229.63,306.36 L230,307.5 L230.37,308.69 L230.74,309.94 L231.11,311.22 L231.49,312.49 L231.89,313.73 L232.32,314.9 L232.79,315.97 L233.3,316.9 L233.87,317.69 L234.48,318.36 L235.14,318.93 L235.83,319.44 L236.52,319.89 L237.23,320.32 L237.92,320.75 L238.6,321.2 L239.24,321.65 L239.86,322.08 L240.46,322.48 L241.07,322.87 L241.71,323.25 L242.38,323.63 L243.1,324.01 L243.9,324.4 L244.78,324.81 L245.73,325.22 L246.74,325.64 L247.78,326.05 L248.85,326.46 L249.92,326.86 L250.97,327.24 L252,327.6 L253.01,327.94 L254.02,328.27 L255.03,328.58 L256.04,328.89 L257.05,329.18 L258.04,329.46 L259.03,329.73 L260,330 L261,330.27 L262.07,330.53 L263.14,330.8 L264.2,331.05 L265.19,331.28 L266.08,331.49 L266.83,331.67 L267.4,331.8" fill="none" stroke="#f05a5a" stroke-width="1.15" stroke-linejoin="round" stroke-linecap="round" />
<path d="M219.4,253.5 L219.44,254.16 L219.48,255.05 L219.53,256.11 L219.59,257.28 L219.65,258.51 L219.73,259.75 L219.81,260.93 L219.9,262 L220,262.98 L220.1,263.92 L220.21,264.84 L220.33,265.75 L220.46,266.66 L220.6,267.58 L220.74,268.52 L220.9,269.5 L221.07,270.51 L221.25,271.55 L221.43,272.61 L221.63,273.69 L221.84,274.77 L222.05,275.85 L222.27,276.93 L222.5,278 L222.73,279.05 L222.96,280.08 L223.2,281.1 L223.45,282.12 L223.71,283.17 L223.99,284.23 L224.28,285.34 L224.6,286.5 L224.95,287.74 L225.33,289.08 L225.74,290.47 L226.16,291.88 L226.58,293.27 L227,294.61 L227.41,295.87 L227.8,297 L228.17,298 L228.54,298.91 L228.9,299.73 L229.25,300.5 L229.6,301.24 L229.94,301.97 L230.27,302.71 L230.6,303.5 L230.9,304.31 L231.18,305.13 L231.44,305.95 L231.69,306.77 L231.96,307.58 L232.26,308.4 L232.6,309.2 L233,310 L233.45,310.82 L233.93,311.67 L234.45,312.53 L235,313.38 L235.58,314.2 L236.19,314.95 L236.83,315.63 L237.5,316.2 L238.2,316.66 L238.93,317.02 L239.69,317.3 L240.48,317.52 L241.29,317.7 L242.14,317.86 L243.01,318.02 L243.9,318.2 L244.76,318.36 L245.57,318.47 L246.38,318.54 L247.23,318.61 L248.16,318.7 L249.24,318.83 L250.5,319.02 L252,319.3 L253.73,319.68 L255.64,320.13 L257.72,320.64 L259.95,321.2 L262.31,321.78 L264.78,322.37 L267.35,322.95 L270,323.5 L272.86,324.03 L276,324.56 L279.32,325.1 L282.71,325.63 L286.07,326.17 L289.29,326.71 L292.27,327.25 L294.9,327.8 L297.25,328.38 L299.45,329.02 L301.49,329.67 L303.36,330.32 L305.02,330.93 L306.48,331.49 L307.71,331.95 L308.7,332.3" fill="none" stroke="#6cc86c" stroke-width="1.15" stroke-linejoin="round" stroke-linecap="round" />
<path d="M219.4,252.3 L219.44,253.02 L219.48,253.99 L219.53,255.15 L219.59,256.43 L219.65,257.77 L219.73,259.1 L219.81,260.37 L219.9,261.5 L220,262.51 L220.1,263.47 L220.21,264.39 L220.33,265.29 L220.46,266.19 L220.6,267.09 L220.74,268.03 L220.9,269 L221.07,270.01 L221.25,271.05 L221.43,272.11 L221.63,273.19 L221.84,274.27 L222.05,275.35 L222.27,276.43 L222.5,277.5 L222.73,278.55 L222.96,279.58 L223.2,280.6 L223.45,281.62 L223.71,282.67 L223.99,283.73 L224.28,284.84 L224.6,286 L224.95,287.24 L225.33,288.58 L225.74,289.97 L226.16,291.38 L226.58,292.77 L227,294.11 L227.41,295.37 L227.8,296.5 L228.17,297.5 L228.54,298.41 L228.9,299.23 L229.25,300 L229.6,300.74 L229.94,301.47 L230.27,302.21 L230.6,303 L230.9,303.81 L231.18,304.63 L231.44,305.44 L231.69,306.26 L231.96,307.07 L232.26,307.88 L232.6,308.69 L233,309.5 L233.45,310.34 L233.93,311.21 L234.45,312.11 L235,312.99 L235.58,313.83 L236.19,314.62 L236.83,315.32 L237.5,315.9 L238.2,316.36 L238.93,316.71 L239.69,316.97 L240.48,317.18 L241.29,317.34 L242.14,317.48 L243.01,317.63 L243.9,317.8 L244.76,317.97 L245.57,318.1 L246.38,318.2 L247.23,318.3 L248.16,318.41 L249.24,318.55 L250.5,318.74 L252,319 L253.69,319.32 L255.52,319.7 L257.5,320.12 L259.64,320.57 L261.94,321.05 L264.43,321.54 L267.11,322.02 L270,322.5 L273.27,322.97 L276.99,323.44 L281,323.92 L285.14,324.41 L289.26,324.9 L293.19,325.42 L296.79,325.95 L299.9,326.5 L302.59,327.11 L305.05,327.8 L307.28,328.52 L309.27,329.25 L311.03,329.95 L312.55,330.58 L313.84,331.11 L314.9,331.5" fill="none" stroke="#5470d0" stroke-width="1.15" stroke-linejoin="round" stroke-linecap="round" />
<path d="M219.4,253 L219.44,253.69 L219.48,254.61 L219.53,255.71 L219.59,256.93 L219.65,258.21 L219.73,259.49 L219.81,260.7 L219.9,261.8 L220,262.79 L220.1,263.74 L220.21,264.66 L220.33,265.57 L220.46,266.47 L220.6,267.39 L220.74,268.32 L220.9,269.3 L221.07,270.31 L221.25,271.35 L221.43,272.41 L221.63,273.49 L221.84,274.57 L222.05,275.65 L222.27,276.73 L222.5,277.8 L222.73,278.85 L222.96,279.88 L223.2,280.9 L223.45,281.92 L223.71,282.96 L223.99,284.03 L224.28,285.14 L224.6,286.3 L224.95,287.56 L225.33,288.92 L225.74,290.34 L226.16,291.78 L226.58,293.2 L227,294.55 L227.41,295.8 L227.8,296.9 L228.17,297.84 L228.54,298.64 L228.9,299.35 L229.25,299.99 L229.6,300.59 L229.94,301.19 L230.27,301.82 L230.6,302.5 L230.9,303.24 L231.18,303.99 L231.44,304.76 L231.69,305.52 L231.96,306.29 L232.26,307.05 L232.6,307.79 L233,308.5 L233.45,309.21 L233.93,309.93 L234.45,310.64 L235,311.34 L235.58,312 L236.19,312.63 L236.83,313.2 L237.5,313.7 L238.2,314.13 L238.93,314.49 L239.69,314.8 L240.48,315.06 L241.29,315.29 L242.14,315.5 L243.01,315.7 L243.9,315.9 L244.76,316.07 L245.57,316.19 L246.38,316.27 L247.23,316.34 L248.16,316.42 L249.24,316.53 L250.5,316.68 L252,316.9 L253.73,317.18 L255.64,317.51 L257.72,317.87 L259.95,318.26 L262.31,318.68 L264.78,319.11 L267.35,319.56 L270,320 L272.82,320.46 L275.85,320.94 L279.05,321.44 L282.32,321.96 L285.62,322.48 L288.86,322.99 L291.97,323.5 L294.9,324 L297.69,324.49 L300.45,324.97 L303.15,325.44 L305.76,325.92 L308.26,326.39 L310.63,326.86 L312.85,327.33 L314.9,327.8 L316.8,328.29 L318.58,328.82 L320.24,329.36 L321.75,329.89 L323.11,330.39 L324.29,330.84 L325.3,331.22 L326.1,331.5" fill="none" stroke="#555555" stroke-width="1.15" stroke-linejoin="round" stroke-linecap="round" />
<rect x="312.5" y="275.4" width="31.3" height="47" fill="#fff" stroke="#b2b2b2" stroke-width="0.9"/>
<line x1="315.1" y1="279.9" x2="328.9" y2="279.9" stroke="#8a8a8a" stroke-width="1.4"/>
<text x="330.9" y="282.4" text-anchor="start" font-size="7" fill="#444444"  textLength="6.6" lengthAdjust="spacingAndGlyphs">1C</text>
<line x1="315.1" y1="287.5" x2="328.9" y2="287.5" stroke="#98aee0" stroke-width="1.4"/>
<text x="330.9" y="290" text-anchor="start" font-size="7" fill="#444444"  textLength="7.2" lengthAdjust="spacingAndGlyphs">2C</text>
<line x1="315.1" y1="295.1" x2="328.9" y2="295.1" stroke="#98d898" stroke-width="1.4"/>
<text x="330.9" y="297.6" text-anchor="start" font-size="7" fill="#444444"  textLength="7.4" lengthAdjust="spacingAndGlyphs">4C</text>
<line x1="315.1" y1="302.7" x2="328.9" y2="302.7" stroke="#f2ee90" stroke-width="1.4"/>
<text x="330.9" y="305.2" text-anchor="start" font-size="7" fill="#444444"  textLength="7.2" lengthAdjust="spacingAndGlyphs">8C</text>
<line x1="315.1" y1="310.3" x2="328.9" y2="310.3" stroke="#a8e2f2" stroke-width="1.4"/>
<text x="330.9" y="312.8" text-anchor="start" font-size="7" fill="#444444"  textLength="10.6" lengthAdjust="spacingAndGlyphs">12C</text>
<line x1="315.1" y1="317.9" x2="328.9" y2="317.9" stroke="#f4a0a0" stroke-width="1.4"/>
<text x="330.9" y="320.4" text-anchor="start" font-size="7" fill="#444444"  textLength="12.2" lengthAdjust="spacingAndGlyphs">20C</text>
<text x="4.9" y="373.9" font-size="7.8" font-weight="bold" fill="#111">e</text>
<rect x="38.5" y="373" width="307" height="71" fill="none" stroke="#bcbcbc" stroke-width="1"/>
<line x1="35.5" y1="443.8" x2="38.5" y2="443.8" stroke="#bcbcbc" stroke-width="1"/>
<text x="33.5" y="446.3" text-anchor="end" font-size="7" fill="#444444" >0</text>
<line x1="36.7" y1="434.95" x2="38.5" y2="434.95" stroke="#bcbcbc" stroke-width="1"/>
<line x1="35.5" y1="426.1" x2="38.5" y2="426.1" stroke="#bcbcbc" stroke-width="1"/>
<text x="33.5" y="428.6" text-anchor="end" font-size="7" fill="#444444" >500</text>
<line x1="36.7" y1="417.25" x2="38.5" y2="417.25" stroke="#bcbcbc" stroke-width="1"/>
<line x1="35.5" y1="408.4" x2="38.5" y2="408.4" stroke="#bcbcbc" stroke-width="1"/>
<text x="33.5" y="410.9" text-anchor="end" font-size="7" fill="#444444" >1,000</text>
<line x1="36.7" y1="399.55" x2="38.5" y2="399.55" stroke="#bcbcbc" stroke-width="1"/>
<line x1="35.5" y1="390.7" x2="38.5" y2="390.7" stroke="#bcbcbc" stroke-width="1"/>
<text x="33.5" y="393.2" text-anchor="end" font-size="7" fill="#444444" >1,500</text>
<line x1="36.7" y1="381.85" x2="38.5" y2="381.85" stroke="#bcbcbc" stroke-width="1"/>
<line x1="35.5" y1="373" x2="38.5" y2="373" stroke="#bcbcbc" stroke-width="1"/>
<text x="33.5" y="375.5" text-anchor="end" font-size="7" fill="#444444" >2,000</text>
<line x1="38.7" y1="444" x2="38.7" y2="447" stroke="#bcbcbc" stroke-width="1"/>
<text x="38.7" y="454.3" text-anchor="middle" font-size="7" fill="#444444" >0</text>
<line x1="62.3" y1="444" x2="62.3" y2="445.8" stroke="#bcbcbc" stroke-width="1"/>
<line x1="85.9" y1="444" x2="85.9" y2="447" stroke="#bcbcbc" stroke-width="1"/>
<text x="85.9" y="454.3" text-anchor="middle" font-size="7" fill="#444444" >100</text>
<line x1="109.5" y1="444" x2="109.5" y2="445.8" stroke="#bcbcbc" stroke-width="1"/>
<line x1="133.1" y1="444" x2="133.1" y2="447" stroke="#bcbcbc" stroke-width="1"/>
<text x="133.1" y="454.3" text-anchor="middle" font-size="7" fill="#444444" >200</text>
<line x1="156.7" y1="444" x2="156.7" y2="445.8" stroke="#bcbcbc" stroke-width="1"/>
<line x1="180.3" y1="444" x2="180.3" y2="447" stroke="#bcbcbc" stroke-width="1"/>
<text x="180.3" y="454.3" text-anchor="middle" font-size="7" fill="#444444" >300</text>
<line x1="203.9" y1="444" x2="203.9" y2="445.8" stroke="#bcbcbc" stroke-width="1"/>
<line x1="227.5" y1="444" x2="227.5" y2="447" stroke="#bcbcbc" stroke-width="1"/>
<text x="227.5" y="454.3" text-anchor="middle" font-size="7" fill="#444444" >400</text>
<line x1="251.1" y1="444" x2="251.1" y2="445.8" stroke="#bcbcbc" stroke-width="1"/>
<line x1="274.7" y1="444" x2="274.7" y2="447" stroke="#bcbcbc" stroke-width="1"/>
<text x="274.7" y="454.3" text-anchor="middle" font-size="7" fill="#444444" >500</text>
<line x1="298.3" y1="444" x2="298.3" y2="445.8" stroke="#bcbcbc" stroke-width="1"/>
<line x1="321.9" y1="444" x2="321.9" y2="447" stroke="#bcbcbc" stroke-width="1"/>
<text x="321.9" y="454.3" text-anchor="middle" font-size="7" fill="#444444" >600</text>
<line x1="345.5" y1="444" x2="345.5" y2="445.8" stroke="#bcbcbc" stroke-width="1"/>
<text x="191.8" y="464.2" text-anchor="middle" font-size="7" fill="#444444"  textLength="38.2" lengthAdjust="spacingAndGlyphs">Cycle number</text>
<text transform="translate(9.5,408.1) rotate(-90)" x="0" y="0" text-anchor="middle" dominant-baseline="central" font-size="7" fill="#444444" textLength="55.5" lengthAdjust="spacingAndGlyphs">Capacity (mAh g<tspan font-size="5" dy="-2.5">−1</tspan><tspan dy="2.5">)</tspan></text>
<path d="M38.9,398.8 L50,399.1" fill="none" stroke="#1a1a1a" stroke-width="1.7" stroke-linejoin="round" stroke-linecap="round" />
<path d="M39.2,396.97 L40.14,397.1 L41.08,397.46 L42.02,397.08 L42.96,397.15 L43.9,397.26 L44.84,396.93 L45.78,397.25 L46.72,397.39 L47.66,397.57 L48.6,396.98 L49.54,397.2 L50.3,400.7 L50.8,403.65 L51.74,404.33 L52.68,404.25 L53.62,403.7 L54.56,404.58 L55.5,404.59 L56.44,404.35 L57.38,404.34 L58.32,403.96 L59.26,403.87 L60.2,404.36 L61.14,403.97 L62.08,404.12 L63.02,404.2 L63.96,404.04 L64.9,404.46 L65.84,404.47 L66.78,404.86 L67.72,404.61 L68.66,404.75 L69.6,404.65 L70.54,404.83 L71.48,404.68 L72.42,404.55 L73.36,405.23 L74,408.25 L74.5,412.18 L75.44,412.11 L76.38,412.06 L77.32,411.77 L78.26,411.75 L79.2,411.86 L80.14,411.71 L81.08,412.38 L82.02,412.09 L82.96,412.52 L83.9,412.13 L84.84,412.66 L85.78,412.56 L86.72,411.8 L87.66,411.97 L88.6,412.58 L89.54,412.15 L90.48,412.58 L91.42,412.01 L92.36,411.66 L93.3,412.1 L94.24,412.17 L95.18,411.65 L96.12,411.41 L97.06,411.56 L98,412.05 L98.4,415.9 L98.9,420.43 L99.84,419.84 L100.78,419.95 L101.72,419.81 L102.66,419.77 L103.6,420.42 L104.54,419.86 L105.48,420.19 L106.42,420.09 L107.36,419.85 L108.3,420.33 L109.24,419.78 L110.18,420.23 L111.12,419.75 L112.06,420.01 L113,419.82 L113.94,419.86 L114.88,420.49 L115.82,420.33 L116.76,419.87 L117.7,420.39 L118.64,419.77 L119.58,419.93 L120.52,420.33 L121.46,420.14 L122.4,409.95 L122.9,399.56 L123.84,400.39 L124.78,399.72 L125.72,399.79 L126.66,400.29 L127.6,399.92 L128.54,399.92 L129.48,399.75 L130.42,399.8 L131.36,400.27 L132.3,399.99 L133.24,400.35 L134.18,400.17 L135.12,400.28 L136.06,400.76 L137,400.37 L137.94,400.48 L138.88,400.77 L139.82,400.19 L140.76,400.19 L141.7,400.9 L142.64,400.85 L143.58,400.37 L144.52,400.35 L145.46,400.87 L146.4,401.09 L146.7,403.8 L147.2,406.64 L148.14,407.33 L149.08,407.28 L150.02,407.05 L150.96,406.9 L151.9,406.63 L152.84,406.59 L153.78,407.43 L154.72,406.8 L155.66,407.23 L156.6,406.84 L157.54,407.37 L158.48,407.18 L159.42,406.92 L160.36,406.83 L161.3,407.34 L162.24,406.77 L163.18,406.93 L164.12,407.24 L165.06,407.52 L166,407.32 L166.94,407.04 L167.88,407.62 L168.82,407 L169.76,406.84 L170.7,407.09 L171,410.3 L171.5,413.25 L172.44,412.9 L173.38,413 L174.32,413.17 L175.26,413.35 L176.2,412.95 L177.14,413.15 L178.08,413.62 L179.02,413.7 L179.96,413.4 L180.9,413.43 L181.84,413.33 L182.78,412.93 L183.72,412.83 L184.66,412.81 L185.6,413.61 L186.54,413.42 L187.48,413.65 L188.42,412.8 L189.36,413.35 L190.3,413.21 L191.24,413.42 L192.18,413.05 L193.12,413.66 L194.06,412.82 L195,413.24 L195.5,415.95 L196,418.9 L196.94,419.04 L197.88,418.87 L198.82,418.83 L199.76,418.89 L200.7,418.99 L201.64,418.46 L202.58,418.75 L203.52,418.93 L204.46,418.88 L205.4,418.46 L206.34,418.78 L207.28,418.83 L208.22,418.55 L209.16,418.58 L210.1,418.35 L211.04,418.51 L211.98,418.52 L212.92,418.03 L213.86,418.52 L214.8,418.82 L215.74,418.7 L216.68,418.55 L217.62,418.23 L218.56,418.52 L219.2,419.75 L219.7,421.28 L220.64,421.17 L221.58,421.54 L222.52,420.88 L223.46,421.5 L224.4,420.86 L225.34,421.39 L226.28,421.3 L227.22,421.09 L228.16,421.53 L229.1,421.36 L230.04,421.48 L230.98,421.77 L231.92,421.19 L232.86,420.98 L233.8,421.26 L234.74,421.62 L235.68,421.2 L236.62,421.19 L237.56,421.87 L238.5,421.66 L239.44,421.48 L240.38,421.9 L241.32,421.41 L242.26,421.73 L243.2,421.32 L243.6,423 L244.1,424.33 L245.04,424.64 L245.98,424.72 L246.92,424.67 L247.86,424.2 L248.8,424.36 L249.74,424.1 L250.68,423.92 L251.62,424.22 L252.56,424.51 L253.5,424.5 L254.44,424.36 L255.38,424.55 L256.32,423.92 L257.26,423.81 L258.2,424.04 L259.14,423.86 L260.08,423.79 L261.02,423.95 L261.96,424.12 L262.9,423.98 L263.84,423.8 L264.78,424.25 L265.72,424.36 L266.7,412.95 L267.2,401.95 L268.14,401.44 L269.08,401.41 L270.02,402.61 L270.96,401.47 L271.9,402.43 L272.84,402.27 L273.78,401.93 L274.72,402.63 L275.66,401.57 L276.6,401.76 L277.54,402.23 L278.48,401.66 L279.42,402.81 L280.36,402.01 L281.3,401.9 L282.24,401.79 L283.18,402.63 L284.12,402.4 L285.06,402.68 L286,402.74 L286.94,402.98 L287.88,403.22 L288.82,402.86 L289.76,402.21 L290.7,402.62 L291.64,402.23 L292.58,402.02 L293.52,402.69 L294.46,403.06 L295.4,402.33 L296.34,402.49 L297.28,402.62 L298.22,403.14 L299.16,402.92 L300.1,403.07 L301.04,403.3 L301.98,402.81 L302.92,403.4 L303.86,403.58 L304.8,402.46 L305.74,403.67 L306.68,403.4 L307.62,402.6 L308.56,403.08 L309.5,403.34 L310.44,403.77 L311.38,403.05 L312.32,403.34 L313.26,403.8 L314.2,403.71 L315.14,403.94 L316.08,403.3 L317.02,403.59 L317.96,402.99 L318.9,403.74 L319.84,403.9 L320.78,403.68 L321.72,403.81 L322.66,403.13 L323.6,404.11 L324.54,404.25 L325.48,404.27 L326.42,403.68 L327.36,404.06 L328.3,403.43 L329.24,404.28 L330.18,404.23 L331.12,403.55 L332.06,403.2 L333,403.73 L333.94,403.91 L334.88,404.24 L335.82,403.87 L336.76,403.25 L337.7,404.37 L338.64,403.35 L339.58,404.41 L340.52,403.56 L341.46,403.81 L342.4,404.47" fill="none" stroke="#ee1f24" stroke-width="0.9" stroke-linejoin="round" stroke-linecap="round" />
<g fill="#ee1f24"><circle cx="39.2" cy="396.97" r="0.95"/><circle cx="40.14" cy="397.1" r="0.95"/><circle cx="41.08" cy="397.46" r="0.95"/><circle cx="42.02" cy="397.08" r="0.95"/><circle cx="42.96" cy="397.15" r="0.95"/><circle cx="43.9" cy="397.26" r="0.95"/><circle cx="44.84" cy="396.93" r="0.95"/><circle cx="45.78" cy="397.25" r="0.95"/><circle cx="46.72" cy="397.39" r="0.95"/><circle cx="47.66" cy="397.57" r="0.95"/><circle cx="48.6" cy="396.98" r="0.95"/><circle cx="49.54" cy="397.2" r="0.95"/><circle cx="50.3" cy="400.7" r="0.95"/><circle cx="50.8" cy="403.65" r="0.95"/><circle cx="51.74" cy="404.33" r="0.95"/><circle cx="52.68" cy="404.25" r="0.95"/><circle cx="53.62" cy="403.7" r="0.95"/><circle cx="54.56" cy="404.58" r="0.95"/><circle cx="55.5" cy="404.59" r="0.95"/><circle cx="56.44" cy="404.35" r="0.95"/><circle cx="57.38" cy="404.34" r="0.95"/><circle cx="58.32" cy="403.96" r="0.95"/><circle cx="59.26" cy="403.87" r="0.95"/><circle cx="60.2" cy="404.36" r="0.95"/><circle cx="61.14" cy="403.97" r="0.95"/><circle cx="62.08" cy="404.12" r="0.95"/><circle cx="63.02" cy="404.2" r="0.95"/><circle cx="63.96" cy="404.04" r="0.95"/><circle cx="64.9" cy="404.46" r="0.95"/><circle cx="65.84" cy="404.47" r="0.95"/><circle cx="66.78" cy="404.86" r="0.95"/><circle cx="67.72" cy="404.61" r="0.95"/><circle cx="68.66" cy="404.75" r="0.95"/><circle cx="69.6" cy="404.65" r="0.95"/><circle cx="70.54" cy="404.83" r="0.95"/><circle cx="71.48" cy="404.68" r="0.95"/><circle cx="72.42" cy="404.55" r="0.95"/><circle cx="73.36" cy="405.23" r="0.95"/><circle cx="74" cy="408.25" r="0.95"/><circle cx="74.5" cy="412.18" r="0.95"/><circle cx="75.44" cy="412.11" r="0.95"/><circle cx="76.38" cy="412.06" r="0.95"/><circle cx="77.32" cy="411.77" r="0.95"/><circle cx="78.26" cy="411.75" r="0.95"/><circle cx="79.2" cy="411.86" r="0.95"/><circle cx="80.14" cy="411.71" r="0.95"/><circle cx="81.08" cy="412.38" r="0.95"/><circle cx="82.02" cy="412.09" r="0.95"/><circle cx="82.96" cy="412.52" r="0.95"/><circle cx="83.9" cy="412.13" r="0.95"/><circle cx="84.84" cy="412.66" r="0.95"/><circle cx="85.78" cy="412.56" r="0.95"/><circle cx="86.72" cy="411.8" r="0.95"/><circle cx="87.66" cy="411.97" r="0.95"/><circle cx="88.6" cy="412.58" r="0.95"/><circle cx="89.54" cy="412.15" r="0.95"/><circle cx="90.48" cy="412.58" r="0.95"/><circle cx="91.42" cy="412.01" r="0.95"/><circle cx="92.36" cy="411.66" r="0.95"/><circle cx="93.3" cy="412.1" r="0.95"/><circle cx="94.24" cy="412.17" r="0.95"/><circle cx="95.18" cy="411.65" r="0.95"/><circle cx="96.12" cy="411.41" r="0.95"/><circle cx="97.06" cy="411.56" r="0.95"/><circle cx="98" cy="412.05" r="0.95"/><circle cx="98.4" cy="415.9" r="0.95"/><circle cx="98.9" cy="420.43" r="0.95"/><circle cx="99.84" cy="419.84" r="0.95"/><circle cx="100.78" cy="419.95" r="0.95"/><circle cx="101.72" cy="419.81" r="0.95"/><circle cx="102.66" cy="419.77" r="0.95"/><circle cx="103.6" cy="420.42" r="0.95"/><circle cx="104.54" cy="419.86" r="0.95"/><circle cx="105.48" cy="420.19" r="0.95"/><circle cx="106.42" cy="420.09" r="0.95"/><circle cx="107.36" cy="419.85" r="0.95"/><circle cx="108.3" cy="420.33" r="0.95"/><circle cx="109.24" cy="419.78" r="0.95"/><circle cx="110.18" cy="420.23" r="0.95"/><circle cx="111.12" cy="419.75" r="0.95"/><circle cx="112.06" cy="420.01" r="0.95"/><circle cx="113" cy="419.82" r="0.95"/><circle cx="113.94" cy="419.86" r="0.95"/><circle cx="114.88" cy="420.49" r="0.95"/><circle cx="115.82" cy="420.33" r="0.95"/><circle cx="116.76" cy="419.87" r="0.95"/><circle cx="117.7" cy="420.39" r="0.95"/><circle cx="118.64" cy="419.77" r="0.95"/><circle cx="119.58" cy="419.93" r="0.95"/><circle cx="120.52" cy="420.33" r="0.95"/><circle cx="121.46" cy="420.14" r="0.95"/><circle cx="122.4" cy="409.95" r="0.95"/><circle cx="122.9" cy="399.56" r="0.95"/><circle cx="123.84" cy="400.39" r="0.95"/><circle cx="124.78" cy="399.72" r="0.95"/><circle cx="125.72" cy="399.79" r="0.95"/><circle cx="126.66" cy="400.29" r="0.95"/><circle cx="127.6" cy="399.92" r="0.95"/><circle cx="128.54" cy="399.92" r="0.95"/><circle cx="129.48" cy="399.75" r="0.95"/><circle cx="130.42" cy="399.8" r="0.95"/><circle cx="131.36" cy="400.27" r="0.95"/><circle cx="132.3" cy="399.99" r="0.95"/><circle cx="133.24" cy="400.35" r="0.95"/><circle cx="134.18" cy="400.17" r="0.95"/><circle cx="135.12" cy="400.28" r="0.95"/><circle cx="136.06" cy="400.76" r="0.95"/><circle cx="137" cy="400.37" r="0.95"/><circle cx="137.94" cy="400.48" r="0.95"/><circle cx="138.88" cy="400.77" r="0.95"/><circle cx="139.82" cy="400.19" r="0.95"/><circle cx="140.76" cy="400.19" r="0.95"/><circle cx="141.7" cy="400.9" r="0.95"/><circle cx="142.64" cy="400.85" r="0.95"/><circle cx="143.58" cy="400.37" r="0.95"/><circle cx="144.52" cy="400.35" r="0.95"/><circle cx="145.46" cy="400.87" r="0.95"/><circle cx="146.4" cy="401.09" r="0.95"/><circle cx="146.7" cy="403.8" r="0.95"/><circle cx="147.2" cy="406.64" r="0.95"/><circle cx="148.14" cy="407.33" r="0.95"/><circle cx="149.08" cy="407.28" r="0.95"/><circle cx="150.02" cy="407.05" r="0.95"/><circle cx="150.96" cy="406.9" r="0.95"/><circle cx="151.9" cy="406.63" r="0.95"/><circle cx="152.84" cy="406.59" r="0.95"/><circle cx="153.78" cy="407.43" r="0.95"/><circle cx="154.72" cy="406.8" r="0.95"/><circle cx="155.66" cy="407.23" r="0.95"/><circle cx="156.6" cy="406.84" r="0.95"/><circle cx="157.54" cy="407.37" r="0.95"/><circle cx="158.48" cy="407.18" r="0.95"/><circle cx="159.42" cy="406.92" r="0.95"/><circle cx="160.36" cy="406.83" r="0.95"/><circle cx="161.3" cy="407.34" r="0.95"/><circle cx="162.24" cy="406.77" r="0.95"/><circle cx="163.18" cy="406.93" r="0.95"/><circle cx="164.12" cy="407.24" r="0.95"/><circle cx="165.06" cy="407.52" r="0.95"/><circle cx="166" cy="407.32" r="0.95"/><circle cx="166.94" cy="407.04" r="0.95"/><circle cx="167.88" cy="407.62" r="0.95"/><circle cx="168.82" cy="407" r="0.95"/><circle cx="169.76" cy="406.84" r="0.95"/><circle cx="170.7" cy="407.09" r="0.95"/><circle cx="171" cy="410.3" r="0.95"/><circle cx="171.5" cy="413.25" r="0.95"/><circle cx="172.44" cy="412.9" r="0.95"/><circle cx="173.38" cy="413" r="0.95"/><circle cx="174.32" cy="413.17" r="0.95"/><circle cx="175.26" cy="413.35" r="0.95"/><circle cx="176.2" cy="412.95" r="0.95"/><circle cx="177.14" cy="413.15" r="0.95"/><circle cx="178.08" cy="413.62" r="0.95"/><circle cx="179.02" cy="413.7" r="0.95"/><circle cx="179.96" cy="413.4" r="0.95"/><circle cx="180.9" cy="413.43" r="0.95"/><circle cx="181.84" cy="413.33" r="0.95"/><circle cx="182.78" cy="412.93" r="0.95"/><circle cx="183.72" cy="412.83" r="0.95"/><circle cx="184.66" cy="412.81" r="0.95"/><circle cx="185.6" cy="413.61" r="0.95"/><circle cx="186.54" cy="413.42" r="0.95"/><circle cx="187.48" cy="413.65" r="0.95"/><circle cx="188.42" cy="412.8" r="0.95"/><circle cx="189.36" cy="413.35" r="0.95"/><circle cx="190.3" cy="413.21" r="0.95"/><circle cx="191.24" cy="413.42" r="0.95"/><circle cx="192.18" cy="413.05" r="0.95"/><circle cx="193.12" cy="413.66" r="0.95"/><circle cx="194.06" cy="412.82" r="0.95"/><circle cx="195" cy="413.24" r="0.95"/><circle cx="195.5" cy="415.95" r="0.95"/><circle cx="196" cy="418.9" r="0.95"/><circle cx="196.94" cy="419.04" r="0.95"/><circle cx="197.88" cy="418.87" r="0.95"/><circle cx="198.82" cy="418.83" r="0.95"/><circle cx="199.76" cy="418.89" r="0.95"/><circle cx="200.7" cy="418.99" r="0.95"/><circle cx="201.64" cy="418.46" r="0.95"/><circle cx="202.58" cy="418.75" r="0.95"/><circle cx="203.52" cy="418.93" r="0.95"/><circle cx="204.46" cy="418.88" r="0.95"/><circle cx="205.4" cy="418.46" r="0.95"/><circle cx="206.34" cy="418.78" r="0.95"/><circle cx="207.28" cy="418.83" r="0.95"/><circle cx="208.22" cy="418.55" r="0.95"/><circle cx="209.16" cy="418.58" r="0.95"/><circle cx="210.1" cy="418.35" r="0.95"/><circle cx="211.04" cy="418.51" r="0.95"/><circle cx="211.98" cy="418.52" r="0.95"/><circle cx="212.92" cy="418.03" r="0.95"/><circle cx="213.86" cy="418.52" r="0.95"/><circle cx="214.8" cy="418.82" r="0.95"/><circle cx="215.74" cy="418.7" r="0.95"/><circle cx="216.68" cy="418.55" r="0.95"/><circle cx="217.62" cy="418.23" r="0.95"/><circle cx="218.56" cy="418.52" r="0.95"/><circle cx="219.2" cy="419.75" r="0.95"/><circle cx="219.7" cy="421.28" r="0.95"/><circle cx="220.64" cy="421.17" r="0.95"/><circle cx="221.58" cy="421.54" r="0.95"/><circle cx="222.52" cy="420.88" r="0.95"/><circle cx="223.46" cy="421.5" r="0.95"/><circle cx="224.4" cy="420.86" r="0.95"/><circle cx="225.34" cy="421.39" r="0.95"/><circle cx="226.28" cy="421.3" r="0.95"/><circle cx="227.22" cy="421.09" r="0.95"/><circle cx="228.16" cy="421.53" r="0.95"/><circle cx="229.1" cy="421.36" r="0.95"/><circle cx="230.04" cy="421.48" r="0.95"/><circle cx="230.98" cy="421.77" r="0.95"/><circle cx="231.92" cy="421.19" r="0.95"/><circle cx="232.86" cy="420.98" r="0.95"/><circle cx="233.8" cy="421.26" r="0.95"/><circle cx="234.74" cy="421.62" r="0.95"/><circle cx="235.68" cy="421.2" r="0.95"/><circle cx="236.62" cy="421.19" r="0.95"/><circle cx="237.56" cy="421.87" r="0.95"/><circle cx="238.5" cy="421.66" r="0.95"/><circle cx="239.44" cy="421.48" r="0.95"/><circle cx="240.38" cy="421.9" r="0.95"/><circle cx="241.32" cy="421.41" r="0.95"/><circle cx="242.26" cy="421.73" r="0.95"/><circle cx="243.2" cy="421.32" r="0.95"/><circle cx="243.6" cy="423" r="0.95"/><circle cx="244.1" cy="424.33" r="0.95"/><circle cx="245.04" cy="424.64" r="0.95"/><circle cx="245.98" cy="424.72" r="0.95"/><circle cx="246.92" cy="424.67" r="0.95"/><circle cx="247.86" cy="424.2" r="0.95"/><circle cx="248.8" cy="424.36" r="0.95"/><circle cx="249.74" cy="424.1" r="0.95"/><circle cx="250.68" cy="423.92" r="0.95"/><circle cx="251.62" cy="424.22" r="0.95"/><circle cx="252.56" cy="424.51" r="0.95"/><circle cx="253.5" cy="424.5" r="0.95"/><circle cx="254.44" cy="424.36" r="0.95"/><circle cx="255.38" cy="424.55" r="0.95"/><circle cx="256.32" cy="423.92" r="0.95"/><circle cx="257.26" cy="423.81" r="0.95"/><circle cx="258.2" cy="424.04" r="0.95"/><circle cx="259.14" cy="423.86" r="0.95"/><circle cx="260.08" cy="423.79" r="0.95"/><circle cx="261.02" cy="423.95" r="0.95"/><circle cx="261.96" cy="424.12" r="0.95"/><circle cx="262.9" cy="423.98" r="0.95"/><circle cx="263.84" cy="423.8" r="0.95"/><circle cx="264.78" cy="424.25" r="0.95"/><circle cx="265.72" cy="424.36" r="0.95"/><circle cx="266.7" cy="412.95" r="1.05"/><circle cx="267.2" cy="401.95" r="1.05"/><circle cx="268.14" cy="401.44" r="1.05"/><circle cx="269.08" cy="401.41" r="1.05"/><circle cx="270.02" cy="402.61" r="1.05"/><circle cx="270.96" cy="401.47" r="1.05"/><circle cx="271.9" cy="402.43" r="1.05"/><circle cx="272.84" cy="402.27" r="1.05"/><circle cx="273.78" cy="401.93" r="1.05"/><circle cx="274.72" cy="402.63" r="1.05"/><circle cx="275.66" cy="401.57" r="1.05"/><circle cx="276.6" cy="401.76" r="1.05"/><circle cx="277.54" cy="402.23" r="1.05"/><circle cx="278.48" cy="401.66" r="1.05"/><circle cx="279.42" cy="402.81" r="1.05"/><circle cx="280.36" cy="402.01" r="1.05"/><circle cx="281.3" cy="401.9" r="1.05"/><circle cx="282.24" cy="401.79" r="1.05"/><circle cx="283.18" cy="402.63" r="1.05"/><circle cx="284.12" cy="402.4" r="1.05"/><circle cx="285.06" cy="402.68" r="1.05"/><circle cx="286" cy="402.74" r="1.05"/><circle cx="286.94" cy="402.98" r="1.05"/><circle cx="287.88" cy="403.22" r="1.05"/><circle cx="288.82" cy="402.86" r="1.05"/><circle cx="289.76" cy="402.21" r="1.05"/><circle cx="290.7" cy="402.62" r="1.05"/><circle cx="291.64" cy="402.23" r="1.05"/><circle cx="292.58" cy="402.02" r="1.05"/><circle cx="293.52" cy="402.69" r="1.05"/><circle cx="294.46" cy="403.06" r="1.05"/><circle cx="295.4" cy="402.33" r="1.05"/><circle cx="296.34" cy="402.49" r="1.05"/><circle cx="297.28" cy="402.62" r="1.05"/><circle cx="298.22" cy="403.14" r="1.05"/><circle cx="299.16" cy="402.92" r="1.05"/><circle cx="300.1" cy="403.07" r="1.05"/><circle cx="301.04" cy="403.3" r="1.05"/><circle cx="301.98" cy="402.81" r="1.05"/><circle cx="302.92" cy="403.4" r="1.05"/><circle cx="303.86" cy="403.58" r="1.05"/><circle cx="304.8" cy="402.46" r="1.05"/><circle cx="305.74" cy="403.67" r="1.05"/><circle cx="306.68" cy="403.4" r="1.05"/><circle cx="307.62" cy="402.6" r="1.05"/><circle cx="308.56" cy="403.08" r="1.05"/><circle cx="309.5" cy="403.34" r="1.05"/><circle cx="310.44" cy="403.77" r="1.05"/><circle cx="311.38" cy="403.05" r="1.05"/><circle cx="312.32" cy="403.34" r="1.05"/><circle cx="313.26" cy="403.8" r="1.05"/><circle cx="314.2" cy="403.71" r="1.05"/><circle cx="315.14" cy="403.94" r="1.05"/><circle cx="316.08" cy="403.3" r="1.05"/><circle cx="317.02" cy="403.59" r="1.05"/><circle cx="317.96" cy="402.99" r="1.05"/><circle cx="318.9" cy="403.74" r="1.05"/><circle cx="319.84" cy="403.9" r="1.05"/><circle cx="320.78" cy="403.68" r="1.05"/><circle cx="321.72" cy="403.81" r="1.05"/><circle cx="322.66" cy="403.13" r="1.05"/><circle cx="323.6" cy="404.11" r="1.05"/><circle cx="324.54" cy="404.25" r="1.05"/><circle cx="325.48" cy="404.27" r="1.05"/><circle cx="326.42" cy="403.68" r="1.05"/><circle cx="327.36" cy="404.06" r="1.05"/><circle cx="328.3" cy="403.43" r="1.05"/><circle cx="329.24" cy="404.28" r="1.05"/><circle cx="330.18" cy="404.23" r="1.05"/><circle cx="331.12" cy="403.55" r="1.05"/><circle cx="332.06" cy="403.2" r="1.05"/><circle cx="333" cy="403.73" r="1.05"/><circle cx="333.94" cy="403.91" r="1.05"/><circle cx="334.88" cy="404.24" r="1.05"/><circle cx="335.82" cy="403.87" r="1.05"/><circle cx="336.76" cy="403.25" r="1.05"/><circle cx="337.7" cy="404.37" r="1.05"/><circle cx="338.64" cy="403.35" r="1.05"/><circle cx="339.58" cy="404.41" r="1.05"/><circle cx="340.52" cy="403.56" r="1.05"/><circle cx="341.46" cy="403.81" r="1.05"/><circle cx="342.4" cy="404.47" r="1.05"/></g>
<g fill="#222"><circle cx="127" cy="401" r="0.5"/><circle cx="132" cy="401.2" r="0.5"/><circle cx="139" cy="401.4" r="0.5"/><circle cx="145" cy="401.5" r="0.5"/><circle cx="272" cy="403.6" r="0.5"/><circle cx="283" cy="404" r="0.5"/><circle cx="296" cy="404.4" r="0.5"/><circle cx="305" cy="404.4" r="0.5"/><circle cx="318" cy="405" r="0.5"/><circle cx="330" cy="405.3" r="0.5"/></g>
<text x="43.9" y="394.4" text-anchor="middle" font-size="7" fill="#444444"  textLength="6.5" lengthAdjust="spacingAndGlyphs">1C</text>
<text x="60.6" y="402.4" text-anchor="middle" font-size="7" fill="#444444"  textLength="8" lengthAdjust="spacingAndGlyphs">2C</text>
<text x="84.5" y="409.9" text-anchor="middle" font-size="7" fill="#444444"  textLength="8" lengthAdjust="spacingAndGlyphs">4C</text>
<text x="110" y="416.9" text-anchor="middle" font-size="7" fill="#444444"  textLength="10.6" lengthAdjust="spacingAndGlyphs">12C</text>
<text x="135.7" y="396.7" text-anchor="middle" font-size="7" fill="#444444"  textLength="6.5" lengthAdjust="spacingAndGlyphs">1C</text>
<text x="159" y="403.1" text-anchor="middle" font-size="7" fill="#444444"  textLength="8" lengthAdjust="spacingAndGlyphs">2C</text>
<text x="184" y="411.6" text-anchor="middle" font-size="7" fill="#444444"  textLength="8" lengthAdjust="spacingAndGlyphs">5C</text>
<text x="206.6" y="415.6" text-anchor="middle" font-size="7" fill="#444444"  textLength="8" lengthAdjust="spacingAndGlyphs">8C</text>
<text x="231.1" y="418.6" text-anchor="middle" font-size="7" fill="#444444"  textLength="10.6" lengthAdjust="spacingAndGlyphs">12C</text>
<text x="253.8" y="421.9" text-anchor="middle" font-size="7" fill="#444444"  textLength="12.4" lengthAdjust="spacingAndGlyphs">20C</text>
<text x="297.5" y="399.4" text-anchor="middle" font-size="7" fill="#444444"  textLength="6.5" lengthAdjust="spacingAndGlyphs">1C</text>
<rect x="193.9" y="379.9" width="51" height="17.1" fill="#fff" stroke="#b2b2b2" stroke-width="0.9"/>
<line x1="197" y1="384.6" x2="211.8" y2="384.6" stroke="#f49090" stroke-width="1.0"/>
<circle cx="204.4" cy="384.6" r="1" fill="#e8262a"/>
<text x="213.8" y="387.1" text-anchor="start" font-size="7" fill="#444444"  textLength="19.8" lengthAdjust="spacingAndGlyphs">Charge</text>
<line x1="197" y1="392.4" x2="211.8" y2="392.4" stroke="#888" stroke-width="1.0"/>
<circle cx="204.4" cy="392.4" r="1" fill="#111"/>
<text x="213.8" y="394.9" text-anchor="start" font-size="7" fill="#444444"  textLength="27.8" lengthAdjust="spacingAndGlyphs">Discharge</text>
</svg>
</body></html>
